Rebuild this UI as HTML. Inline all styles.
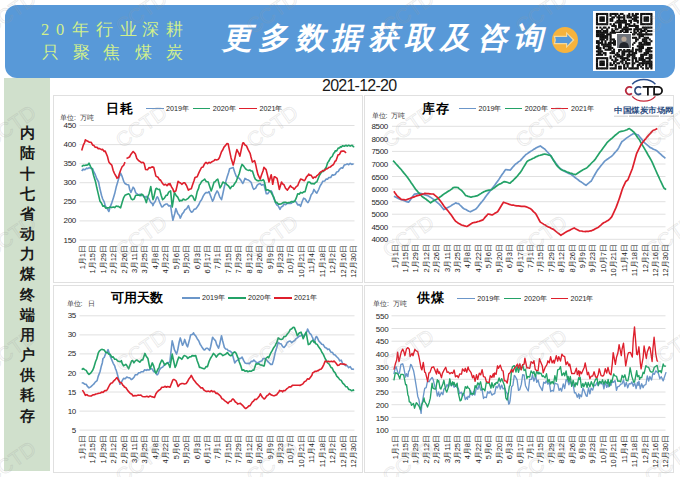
<!DOCTYPE html><html><head><meta charset="utf-8"><style>
html,body{margin:0;padding:0;}
body{width:680px;height:477px;position:relative;overflow:hidden;background:#fff;font-family:"Liberation Sans", sans-serif;}
.a{position:absolute;white-space:nowrap;line-height:1;}
.panel{position:absolute;border:1px solid #e0e0e0;box-sizing:border-box;background:#fff;}
.yl{position:absolute;white-space:nowrap;font-size:8px;color:#262626;text-align:right;width:24px;line-height:8px;letter-spacing:-0.3px;}
.xl{position:absolute;white-space:nowrap;font-size:7.5px;color:#222;line-height:8px;transform-origin:0 0;transform:rotate(-90deg);text-align:right;width:40px;}
.ttl{position:absolute;white-space:nowrap;letter-spacing:1px;font-size:12.5px;font-weight:bold;color:#000;line-height:1;}
.leg{position:absolute;white-space:nowrap;font-size:7.2px;color:#262626;line-height:8px;}
.unit{position:absolute;white-space:nowrap;font-size:7px;color:#404040;line-height:8px;}
</style></head><body>

<div class="a" style="left:5px;top:5px;width:670px;height:72.5px;border-radius:12px;background:#5899d8;"></div>
<div class="a" style="left:41px;top:22.3px;font-size:16.5px;font-weight:300;color:#d2f08c;font-family:'Liberation Serif',serif;">2</div>
<div class="a" style="left:56px;top:22.3px;font-size:16.5px;font-weight:300;color:#d2f08c;font-family:'Liberation Serif',serif;">0</div>
<div class="a" style="left:71.5px;top:22.3px;font-size:16.5px;font-weight:300;color:#d2f08c;font-family:'Liberation Serif',serif;">年</div>
<div class="a" style="left:95.5px;top:22.3px;font-size:16.5px;font-weight:300;color:#d2f08c;font-family:'Liberation Serif',serif;">行</div>
<div class="a" style="left:119.5px;top:22.3px;font-size:16.5px;font-weight:300;color:#d2f08c;font-family:'Liberation Serif',serif;">业</div>
<div class="a" style="left:142px;top:22.3px;font-size:16.5px;font-weight:300;color:#d2f08c;font-family:'Liberation Serif',serif;">深</div>
<div class="a" style="left:165.5px;top:22.3px;font-size:16.5px;font-weight:300;color:#d2f08c;font-family:'Liberation Serif',serif;">耕</div>
<div class="a" style="left:42px;top:45.2px;font-size:16.5px;font-weight:300;color:#d2f08c;font-family:'Liberation Serif',serif;">只</div>
<div class="a" style="left:72.5px;top:45.2px;font-size:16.5px;font-weight:300;color:#d2f08c;font-family:'Liberation Serif',serif;">聚</div>
<div class="a" style="left:103px;top:45.2px;font-size:16.5px;font-weight:300;color:#d2f08c;font-family:'Liberation Serif',serif;">焦</div>
<div class="a" style="left:134.5px;top:45.2px;font-size:16.5px;font-weight:300;color:#d2f08c;font-family:'Liberation Serif',serif;">煤</div>
<div class="a" style="left:165.5px;top:45.2px;font-size:16.5px;font-weight:300;color:#d2f08c;font-family:'Liberation Serif',serif;">炭</div>
<div class="a" style="left:222px;top:23px;font-size:30px;color:#fff;font-style:italic;font-weight:bold;letter-spacing:6.4px;">更多数据获取及咨询</div>
<svg class="a" style="left:551px;top:26px;" width="28" height="28" viewBox="0 0 28 28">
<circle cx="14" cy="14" r="13" fill="#f7b33d"/>
<path d="M2.5 9.8 H15 V5.8 L23.5 14 L15 22.2 V18.2 H2.5 Q4.5 14 2.5 9.8 Z" fill="#f3d9a0"/>
<path d="M4.2 11 H16.2 V8.3 L21.6 14 L16.2 19.7 V17 H4.2 Q5.6 14 4.2 11 Z" fill="#5899d8"/>
</svg>
<svg class="a" style="left:593px;top:11px;" width="62" height="60"><rect width="62" height="60" fill="#fff"/><g fill="#111"><rect x="2.95" y="1.95" width="2.10" height="2.10"/><rect x="4.65" y="1.95" width="2.10" height="2.10"/><rect x="6.35" y="1.95" width="2.10" height="2.10"/><rect x="8.05" y="1.95" width="2.10" height="2.10"/><rect x="9.75" y="1.95" width="2.10" height="2.10"/><rect x="11.45" y="1.95" width="2.10" height="2.10"/><rect x="13.15" y="1.95" width="2.10" height="2.10"/><rect x="16.55" y="1.95" width="2.10" height="2.10"/><rect x="18.25" y="1.95" width="2.10" height="2.10"/><rect x="19.95" y="1.95" width="2.10" height="2.10"/><rect x="21.65" y="1.95" width="2.10" height="2.10"/><rect x="23.35" y="1.95" width="2.10" height="2.10"/><rect x="26.75" y="1.95" width="2.10" height="2.10"/><rect x="28.45" y="1.95" width="2.10" height="2.10"/><rect x="35.25" y="1.95" width="2.10" height="2.10"/><rect x="38.65" y="1.95" width="2.10" height="2.10"/><rect x="42.05" y="1.95" width="2.10" height="2.10"/><rect x="43.75" y="1.95" width="2.10" height="2.10"/><rect x="47.15" y="1.95" width="2.10" height="2.10"/><rect x="48.85" y="1.95" width="2.10" height="2.10"/><rect x="50.55" y="1.95" width="2.10" height="2.10"/><rect x="52.25" y="1.95" width="2.10" height="2.10"/><rect x="53.95" y="1.95" width="2.10" height="2.10"/><rect x="55.65" y="1.95" width="2.10" height="2.10"/><rect x="57.35" y="1.95" width="2.10" height="2.10"/><rect x="2.95" y="3.65" width="2.10" height="2.10"/><rect x="13.15" y="3.65" width="2.10" height="2.10"/><rect x="16.55" y="3.65" width="2.10" height="2.10"/><rect x="21.65" y="3.65" width="2.10" height="2.10"/><rect x="25.05" y="3.65" width="2.10" height="2.10"/><rect x="30.15" y="3.65" width="2.10" height="2.10"/><rect x="33.55" y="3.65" width="2.10" height="2.10"/><rect x="35.25" y="3.65" width="2.10" height="2.10"/><rect x="38.65" y="3.65" width="2.10" height="2.10"/><rect x="40.35" y="3.65" width="2.10" height="2.10"/><rect x="42.05" y="3.65" width="2.10" height="2.10"/><rect x="47.15" y="3.65" width="2.10" height="2.10"/><rect x="57.35" y="3.65" width="2.10" height="2.10"/><rect x="2.95" y="5.35" width="2.10" height="2.10"/><rect x="6.35" y="5.35" width="2.10" height="2.10"/><rect x="8.05" y="5.35" width="2.10" height="2.10"/><rect x="9.75" y="5.35" width="2.10" height="2.10"/><rect x="13.15" y="5.35" width="2.10" height="2.10"/><rect x="18.25" y="5.35" width="2.10" height="2.10"/><rect x="19.95" y="5.35" width="2.10" height="2.10"/><rect x="23.35" y="5.35" width="2.10" height="2.10"/><rect x="25.05" y="5.35" width="2.10" height="2.10"/><rect x="26.75" y="5.35" width="2.10" height="2.10"/><rect x="28.45" y="5.35" width="2.10" height="2.10"/><rect x="30.15" y="5.35" width="2.10" height="2.10"/><rect x="33.55" y="5.35" width="2.10" height="2.10"/><rect x="35.25" y="5.35" width="2.10" height="2.10"/><rect x="36.95" y="5.35" width="2.10" height="2.10"/><rect x="40.35" y="5.35" width="2.10" height="2.10"/><rect x="42.05" y="5.35" width="2.10" height="2.10"/><rect x="43.75" y="5.35" width="2.10" height="2.10"/><rect x="47.15" y="5.35" width="2.10" height="2.10"/><rect x="50.55" y="5.35" width="2.10" height="2.10"/><rect x="52.25" y="5.35" width="2.10" height="2.10"/><rect x="53.95" y="5.35" width="2.10" height="2.10"/><rect x="57.35" y="5.35" width="2.10" height="2.10"/><rect x="2.95" y="7.05" width="2.10" height="2.10"/><rect x="6.35" y="7.05" width="2.10" height="2.10"/><rect x="8.05" y="7.05" width="2.10" height="2.10"/><rect x="9.75" y="7.05" width="2.10" height="2.10"/><rect x="13.15" y="7.05" width="2.10" height="2.10"/><rect x="16.55" y="7.05" width="2.10" height="2.10"/><rect x="18.25" y="7.05" width="2.10" height="2.10"/><rect x="25.05" y="7.05" width="2.10" height="2.10"/><rect x="30.15" y="7.05" width="2.10" height="2.10"/><rect x="38.65" y="7.05" width="2.10" height="2.10"/><rect x="40.35" y="7.05" width="2.10" height="2.10"/><rect x="42.05" y="7.05" width="2.10" height="2.10"/><rect x="47.15" y="7.05" width="2.10" height="2.10"/><rect x="50.55" y="7.05" width="2.10" height="2.10"/><rect x="52.25" y="7.05" width="2.10" height="2.10"/><rect x="53.95" y="7.05" width="2.10" height="2.10"/><rect x="57.35" y="7.05" width="2.10" height="2.10"/><rect x="2.95" y="8.75" width="2.10" height="2.10"/><rect x="6.35" y="8.75" width="2.10" height="2.10"/><rect x="8.05" y="8.75" width="2.10" height="2.10"/><rect x="9.75" y="8.75" width="2.10" height="2.10"/><rect x="13.15" y="8.75" width="2.10" height="2.10"/><rect x="16.55" y="8.75" width="2.10" height="2.10"/><rect x="18.25" y="8.75" width="2.10" height="2.10"/><rect x="23.35" y="8.75" width="2.10" height="2.10"/><rect x="25.05" y="8.75" width="2.10" height="2.10"/><rect x="26.75" y="8.75" width="2.10" height="2.10"/><rect x="28.45" y="8.75" width="2.10" height="2.10"/><rect x="30.15" y="8.75" width="2.10" height="2.10"/><rect x="31.85" y="8.75" width="2.10" height="2.10"/><rect x="35.25" y="8.75" width="2.10" height="2.10"/><rect x="36.95" y="8.75" width="2.10" height="2.10"/><rect x="40.35" y="8.75" width="2.10" height="2.10"/><rect x="42.05" y="8.75" width="2.10" height="2.10"/><rect x="43.75" y="8.75" width="2.10" height="2.10"/><rect x="47.15" y="8.75" width="2.10" height="2.10"/><rect x="50.55" y="8.75" width="2.10" height="2.10"/><rect x="52.25" y="8.75" width="2.10" height="2.10"/><rect x="53.95" y="8.75" width="2.10" height="2.10"/><rect x="57.35" y="8.75" width="2.10" height="2.10"/><rect x="2.95" y="10.45" width="2.10" height="2.10"/><rect x="13.15" y="10.45" width="2.10" height="2.10"/><rect x="21.65" y="10.45" width="2.10" height="2.10"/><rect x="23.35" y="10.45" width="2.10" height="2.10"/><rect x="25.05" y="10.45" width="2.10" height="2.10"/><rect x="26.75" y="10.45" width="2.10" height="2.10"/><rect x="28.45" y="10.45" width="2.10" height="2.10"/><rect x="30.15" y="10.45" width="2.10" height="2.10"/><rect x="31.85" y="10.45" width="2.10" height="2.10"/><rect x="36.95" y="10.45" width="2.10" height="2.10"/><rect x="43.75" y="10.45" width="2.10" height="2.10"/><rect x="47.15" y="10.45" width="2.10" height="2.10"/><rect x="57.35" y="10.45" width="2.10" height="2.10"/><rect x="2.95" y="12.15" width="2.10" height="2.10"/><rect x="4.65" y="12.15" width="2.10" height="2.10"/><rect x="6.35" y="12.15" width="2.10" height="2.10"/><rect x="8.05" y="12.15" width="2.10" height="2.10"/><rect x="9.75" y="12.15" width="2.10" height="2.10"/><rect x="11.45" y="12.15" width="2.10" height="2.10"/><rect x="13.15" y="12.15" width="2.10" height="2.10"/><rect x="16.55" y="12.15" width="2.10" height="2.10"/><rect x="19.95" y="12.15" width="2.10" height="2.10"/><rect x="25.05" y="12.15" width="2.10" height="2.10"/><rect x="26.75" y="12.15" width="2.10" height="2.10"/><rect x="31.85" y="12.15" width="2.10" height="2.10"/><rect x="33.55" y="12.15" width="2.10" height="2.10"/><rect x="35.25" y="12.15" width="2.10" height="2.10"/><rect x="40.35" y="12.15" width="2.10" height="2.10"/><rect x="47.15" y="12.15" width="2.10" height="2.10"/><rect x="48.85" y="12.15" width="2.10" height="2.10"/><rect x="50.55" y="12.15" width="2.10" height="2.10"/><rect x="52.25" y="12.15" width="2.10" height="2.10"/><rect x="53.95" y="12.15" width="2.10" height="2.10"/><rect x="55.65" y="12.15" width="2.10" height="2.10"/><rect x="57.35" y="12.15" width="2.10" height="2.10"/><rect x="18.25" y="13.85" width="2.10" height="2.10"/><rect x="19.95" y="13.85" width="2.10" height="2.10"/><rect x="21.65" y="13.85" width="2.10" height="2.10"/><rect x="25.05" y="13.85" width="2.10" height="2.10"/><rect x="26.75" y="13.85" width="2.10" height="2.10"/><rect x="31.85" y="13.85" width="2.10" height="2.10"/><rect x="35.25" y="13.85" width="2.10" height="2.10"/><rect x="36.95" y="13.85" width="2.10" height="2.10"/><rect x="38.65" y="13.85" width="2.10" height="2.10"/><rect x="40.35" y="13.85" width="2.10" height="2.10"/><rect x="42.05" y="13.85" width="2.10" height="2.10"/><rect x="43.75" y="13.85" width="2.10" height="2.10"/><rect x="2.95" y="15.55" width="2.10" height="2.10"/><rect x="6.35" y="15.55" width="2.10" height="2.10"/><rect x="9.75" y="15.55" width="2.10" height="2.10"/><rect x="11.45" y="15.55" width="2.10" height="2.10"/><rect x="14.85" y="15.55" width="2.10" height="2.10"/><rect x="21.65" y="15.55" width="2.10" height="2.10"/><rect x="25.05" y="15.55" width="2.10" height="2.10"/><rect x="26.75" y="15.55" width="2.10" height="2.10"/><rect x="30.15" y="15.55" width="2.10" height="2.10"/><rect x="31.85" y="15.55" width="2.10" height="2.10"/><rect x="33.55" y="15.55" width="2.10" height="2.10"/><rect x="42.05" y="15.55" width="2.10" height="2.10"/><rect x="43.75" y="15.55" width="2.10" height="2.10"/><rect x="48.85" y="15.55" width="2.10" height="2.10"/><rect x="50.55" y="15.55" width="2.10" height="2.10"/><rect x="52.25" y="15.55" width="2.10" height="2.10"/><rect x="53.95" y="15.55" width="2.10" height="2.10"/><rect x="55.65" y="15.55" width="2.10" height="2.10"/><rect x="57.35" y="15.55" width="2.10" height="2.10"/><rect x="8.05" y="17.25" width="2.10" height="2.10"/><rect x="13.15" y="17.25" width="2.10" height="2.10"/><rect x="18.25" y="17.25" width="2.10" height="2.10"/><rect x="21.65" y="17.25" width="2.10" height="2.10"/><rect x="23.35" y="17.25" width="2.10" height="2.10"/><rect x="28.45" y="17.25" width="2.10" height="2.10"/><rect x="30.15" y="17.25" width="2.10" height="2.10"/><rect x="31.85" y="17.25" width="2.10" height="2.10"/><rect x="33.55" y="17.25" width="2.10" height="2.10"/><rect x="35.25" y="17.25" width="2.10" height="2.10"/><rect x="36.95" y="17.25" width="2.10" height="2.10"/><rect x="40.35" y="17.25" width="2.10" height="2.10"/><rect x="42.05" y="17.25" width="2.10" height="2.10"/><rect x="43.75" y="17.25" width="2.10" height="2.10"/><rect x="45.45" y="17.25" width="2.10" height="2.10"/><rect x="47.15" y="17.25" width="2.10" height="2.10"/><rect x="50.55" y="17.25" width="2.10" height="2.10"/><rect x="52.25" y="17.25" width="2.10" height="2.10"/><rect x="2.95" y="18.95" width="2.10" height="2.10"/><rect x="4.65" y="18.95" width="2.10" height="2.10"/><rect x="6.35" y="18.95" width="2.10" height="2.10"/><rect x="9.75" y="18.95" width="2.10" height="2.10"/><rect x="11.45" y="18.95" width="2.10" height="2.10"/><rect x="13.15" y="18.95" width="2.10" height="2.10"/><rect x="18.25" y="18.95" width="2.10" height="2.10"/><rect x="19.95" y="18.95" width="2.10" height="2.10"/><rect x="26.75" y="18.95" width="2.10" height="2.10"/><rect x="28.45" y="18.95" width="2.10" height="2.10"/><rect x="31.85" y="18.95" width="2.10" height="2.10"/><rect x="33.55" y="18.95" width="2.10" height="2.10"/><rect x="40.35" y="18.95" width="2.10" height="2.10"/><rect x="43.75" y="18.95" width="2.10" height="2.10"/><rect x="47.15" y="18.95" width="2.10" height="2.10"/><rect x="48.85" y="18.95" width="2.10" height="2.10"/><rect x="50.55" y="18.95" width="2.10" height="2.10"/><rect x="53.95" y="18.95" width="2.10" height="2.10"/><rect x="55.65" y="18.95" width="2.10" height="2.10"/><rect x="57.35" y="18.95" width="2.10" height="2.10"/><rect x="2.95" y="20.65" width="2.10" height="2.10"/><rect x="4.65" y="20.65" width="2.10" height="2.10"/><rect x="6.35" y="20.65" width="2.10" height="2.10"/><rect x="8.05" y="20.65" width="2.10" height="2.10"/><rect x="9.75" y="20.65" width="2.10" height="2.10"/><rect x="11.45" y="20.65" width="2.10" height="2.10"/><rect x="13.15" y="20.65" width="2.10" height="2.10"/><rect x="16.55" y="20.65" width="2.10" height="2.10"/><rect x="18.25" y="20.65" width="2.10" height="2.10"/><rect x="19.95" y="20.65" width="2.10" height="2.10"/><rect x="21.65" y="20.65" width="2.10" height="2.10"/><rect x="23.35" y="20.65" width="2.10" height="2.10"/><rect x="25.05" y="20.65" width="2.10" height="2.10"/><rect x="26.75" y="20.65" width="2.10" height="2.10"/><rect x="30.15" y="20.65" width="2.10" height="2.10"/><rect x="31.85" y="20.65" width="2.10" height="2.10"/><rect x="33.55" y="20.65" width="2.10" height="2.10"/><rect x="36.95" y="20.65" width="2.10" height="2.10"/><rect x="40.35" y="20.65" width="2.10" height="2.10"/><rect x="42.05" y="20.65" width="2.10" height="2.10"/><rect x="45.45" y="20.65" width="2.10" height="2.10"/><rect x="47.15" y="20.65" width="2.10" height="2.10"/><rect x="52.25" y="20.65" width="2.10" height="2.10"/><rect x="2.95" y="22.35" width="2.10" height="2.10"/><rect x="4.65" y="22.35" width="2.10" height="2.10"/><rect x="6.35" y="22.35" width="2.10" height="2.10"/><rect x="8.05" y="22.35" width="2.10" height="2.10"/><rect x="9.75" y="22.35" width="2.10" height="2.10"/><rect x="13.15" y="22.35" width="2.10" height="2.10"/><rect x="14.85" y="22.35" width="2.10" height="2.10"/><rect x="16.55" y="22.35" width="2.10" height="2.10"/><rect x="23.35" y="22.35" width="2.10" height="2.10"/><rect x="25.05" y="22.35" width="2.10" height="2.10"/><rect x="26.75" y="22.35" width="2.10" height="2.10"/><rect x="28.45" y="22.35" width="2.10" height="2.10"/><rect x="30.15" y="22.35" width="2.10" height="2.10"/><rect x="31.85" y="22.35" width="2.10" height="2.10"/><rect x="33.55" y="22.35" width="2.10" height="2.10"/><rect x="38.65" y="22.35" width="2.10" height="2.10"/><rect x="40.35" y="22.35" width="2.10" height="2.10"/><rect x="43.75" y="22.35" width="2.10" height="2.10"/><rect x="45.45" y="22.35" width="2.10" height="2.10"/><rect x="47.15" y="22.35" width="2.10" height="2.10"/><rect x="48.85" y="22.35" width="2.10" height="2.10"/><rect x="50.55" y="22.35" width="2.10" height="2.10"/><rect x="52.25" y="22.35" width="2.10" height="2.10"/><rect x="53.95" y="22.35" width="2.10" height="2.10"/><rect x="55.65" y="22.35" width="2.10" height="2.10"/><rect x="57.35" y="22.35" width="2.10" height="2.10"/><rect x="2.95" y="24.05" width="2.10" height="2.10"/><rect x="4.65" y="24.05" width="2.10" height="2.10"/><rect x="6.35" y="24.05" width="2.10" height="2.10"/><rect x="8.05" y="24.05" width="2.10" height="2.10"/><rect x="9.75" y="24.05" width="2.10" height="2.10"/><rect x="11.45" y="24.05" width="2.10" height="2.10"/><rect x="13.15" y="24.05" width="2.10" height="2.10"/><rect x="16.55" y="24.05" width="2.10" height="2.10"/><rect x="25.05" y="24.05" width="2.10" height="2.10"/><rect x="26.75" y="24.05" width="2.10" height="2.10"/><rect x="30.15" y="24.05" width="2.10" height="2.10"/><rect x="35.25" y="24.05" width="2.10" height="2.10"/><rect x="45.45" y="24.05" width="2.10" height="2.10"/><rect x="47.15" y="24.05" width="2.10" height="2.10"/><rect x="48.85" y="24.05" width="2.10" height="2.10"/><rect x="6.35" y="25.75" width="2.10" height="2.10"/><rect x="8.05" y="25.75" width="2.10" height="2.10"/><rect x="9.75" y="25.75" width="2.10" height="2.10"/><rect x="11.45" y="25.75" width="2.10" height="2.10"/><rect x="13.15" y="25.75" width="2.10" height="2.10"/><rect x="16.55" y="25.75" width="2.10" height="2.10"/><rect x="23.35" y="25.75" width="2.10" height="2.10"/><rect x="25.05" y="25.75" width="2.10" height="2.10"/><rect x="30.15" y="25.75" width="2.10" height="2.10"/><rect x="31.85" y="25.75" width="2.10" height="2.10"/><rect x="35.25" y="25.75" width="2.10" height="2.10"/><rect x="38.65" y="25.75" width="2.10" height="2.10"/><rect x="40.35" y="25.75" width="2.10" height="2.10"/><rect x="42.05" y="25.75" width="2.10" height="2.10"/><rect x="45.45" y="25.75" width="2.10" height="2.10"/><rect x="50.55" y="25.75" width="2.10" height="2.10"/><rect x="52.25" y="25.75" width="2.10" height="2.10"/><rect x="53.95" y="25.75" width="2.10" height="2.10"/><rect x="6.35" y="27.45" width="2.10" height="2.10"/><rect x="8.05" y="27.45" width="2.10" height="2.10"/><rect x="9.75" y="27.45" width="2.10" height="2.10"/><rect x="13.15" y="27.45" width="2.10" height="2.10"/><rect x="16.55" y="27.45" width="2.10" height="2.10"/><rect x="18.25" y="27.45" width="2.10" height="2.10"/><rect x="19.95" y="27.45" width="2.10" height="2.10"/><rect x="26.75" y="27.45" width="2.10" height="2.10"/><rect x="28.45" y="27.45" width="2.10" height="2.10"/><rect x="30.15" y="27.45" width="2.10" height="2.10"/><rect x="31.85" y="27.45" width="2.10" height="2.10"/><rect x="33.55" y="27.45" width="2.10" height="2.10"/><rect x="36.95" y="27.45" width="2.10" height="2.10"/><rect x="42.05" y="27.45" width="2.10" height="2.10"/><rect x="43.75" y="27.45" width="2.10" height="2.10"/><rect x="48.85" y="27.45" width="2.10" height="2.10"/><rect x="50.55" y="27.45" width="2.10" height="2.10"/><rect x="52.25" y="27.45" width="2.10" height="2.10"/><rect x="55.65" y="27.45" width="2.10" height="2.10"/><rect x="2.95" y="29.15" width="2.10" height="2.10"/><rect x="4.65" y="29.15" width="2.10" height="2.10"/><rect x="8.05" y="29.15" width="2.10" height="2.10"/><rect x="11.45" y="29.15" width="2.10" height="2.10"/><rect x="16.55" y="29.15" width="2.10" height="2.10"/><rect x="19.95" y="29.15" width="2.10" height="2.10"/><rect x="21.65" y="29.15" width="2.10" height="2.10"/><rect x="23.35" y="29.15" width="2.10" height="2.10"/><rect x="25.05" y="29.15" width="2.10" height="2.10"/><rect x="26.75" y="29.15" width="2.10" height="2.10"/><rect x="28.45" y="29.15" width="2.10" height="2.10"/><rect x="30.15" y="29.15" width="2.10" height="2.10"/><rect x="31.85" y="29.15" width="2.10" height="2.10"/><rect x="33.55" y="29.15" width="2.10" height="2.10"/><rect x="36.95" y="29.15" width="2.10" height="2.10"/><rect x="42.05" y="29.15" width="2.10" height="2.10"/><rect x="48.85" y="29.15" width="2.10" height="2.10"/><rect x="50.55" y="29.15" width="2.10" height="2.10"/><rect x="52.25" y="29.15" width="2.10" height="2.10"/><rect x="57.35" y="29.15" width="2.10" height="2.10"/><rect x="2.95" y="30.85" width="2.10" height="2.10"/><rect x="4.65" y="30.85" width="2.10" height="2.10"/><rect x="6.35" y="30.85" width="2.10" height="2.10"/><rect x="8.05" y="30.85" width="2.10" height="2.10"/><rect x="11.45" y="30.85" width="2.10" height="2.10"/><rect x="14.85" y="30.85" width="2.10" height="2.10"/><rect x="16.55" y="30.85" width="2.10" height="2.10"/><rect x="18.25" y="30.85" width="2.10" height="2.10"/><rect x="19.95" y="30.85" width="2.10" height="2.10"/><rect x="21.65" y="30.85" width="2.10" height="2.10"/><rect x="33.55" y="30.85" width="2.10" height="2.10"/><rect x="36.95" y="30.85" width="2.10" height="2.10"/><rect x="40.35" y="30.85" width="2.10" height="2.10"/><rect x="45.45" y="30.85" width="2.10" height="2.10"/><rect x="47.15" y="30.85" width="2.10" height="2.10"/><rect x="50.55" y="30.85" width="2.10" height="2.10"/><rect x="52.25" y="30.85" width="2.10" height="2.10"/><rect x="53.95" y="30.85" width="2.10" height="2.10"/><rect x="55.65" y="30.85" width="2.10" height="2.10"/><rect x="4.65" y="32.55" width="2.10" height="2.10"/><rect x="8.05" y="32.55" width="2.10" height="2.10"/><rect x="9.75" y="32.55" width="2.10" height="2.10"/><rect x="11.45" y="32.55" width="2.10" height="2.10"/><rect x="13.15" y="32.55" width="2.10" height="2.10"/><rect x="14.85" y="32.55" width="2.10" height="2.10"/><rect x="16.55" y="32.55" width="2.10" height="2.10"/><rect x="19.95" y="32.55" width="2.10" height="2.10"/><rect x="21.65" y="32.55" width="2.10" height="2.10"/><rect x="26.75" y="32.55" width="2.10" height="2.10"/><rect x="28.45" y="32.55" width="2.10" height="2.10"/><rect x="30.15" y="32.55" width="2.10" height="2.10"/><rect x="31.85" y="32.55" width="2.10" height="2.10"/><rect x="33.55" y="32.55" width="2.10" height="2.10"/><rect x="35.25" y="32.55" width="2.10" height="2.10"/><rect x="36.95" y="32.55" width="2.10" height="2.10"/><rect x="38.65" y="32.55" width="2.10" height="2.10"/><rect x="45.45" y="32.55" width="2.10" height="2.10"/><rect x="47.15" y="32.55" width="2.10" height="2.10"/><rect x="48.85" y="32.55" width="2.10" height="2.10"/><rect x="50.55" y="32.55" width="2.10" height="2.10"/><rect x="52.25" y="32.55" width="2.10" height="2.10"/><rect x="53.95" y="32.55" width="2.10" height="2.10"/><rect x="55.65" y="32.55" width="2.10" height="2.10"/><rect x="2.95" y="34.25" width="2.10" height="2.10"/><rect x="4.65" y="34.25" width="2.10" height="2.10"/><rect x="9.75" y="34.25" width="2.10" height="2.10"/><rect x="11.45" y="34.25" width="2.10" height="2.10"/><rect x="13.15" y="34.25" width="2.10" height="2.10"/><rect x="14.85" y="34.25" width="2.10" height="2.10"/><rect x="16.55" y="34.25" width="2.10" height="2.10"/><rect x="23.35" y="34.25" width="2.10" height="2.10"/><rect x="25.05" y="34.25" width="2.10" height="2.10"/><rect x="30.15" y="34.25" width="2.10" height="2.10"/><rect x="33.55" y="34.25" width="2.10" height="2.10"/><rect x="35.25" y="34.25" width="2.10" height="2.10"/><rect x="43.75" y="34.25" width="2.10" height="2.10"/><rect x="45.45" y="34.25" width="2.10" height="2.10"/><rect x="47.15" y="34.25" width="2.10" height="2.10"/><rect x="48.85" y="34.25" width="2.10" height="2.10"/><rect x="2.95" y="35.95" width="2.10" height="2.10"/><rect x="4.65" y="35.95" width="2.10" height="2.10"/><rect x="6.35" y="35.95" width="2.10" height="2.10"/><rect x="9.75" y="35.95" width="2.10" height="2.10"/><rect x="14.85" y="35.95" width="2.10" height="2.10"/><rect x="16.55" y="35.95" width="2.10" height="2.10"/><rect x="18.25" y="35.95" width="2.10" height="2.10"/><rect x="23.35" y="35.95" width="2.10" height="2.10"/><rect x="25.05" y="35.95" width="2.10" height="2.10"/><rect x="26.75" y="35.95" width="2.10" height="2.10"/><rect x="30.15" y="35.95" width="2.10" height="2.10"/><rect x="31.85" y="35.95" width="2.10" height="2.10"/><rect x="35.25" y="35.95" width="2.10" height="2.10"/><rect x="36.95" y="35.95" width="2.10" height="2.10"/><rect x="38.65" y="35.95" width="2.10" height="2.10"/><rect x="45.45" y="35.95" width="2.10" height="2.10"/><rect x="47.15" y="35.95" width="2.10" height="2.10"/><rect x="48.85" y="35.95" width="2.10" height="2.10"/><rect x="53.95" y="35.95" width="2.10" height="2.10"/><rect x="55.65" y="35.95" width="2.10" height="2.10"/><rect x="57.35" y="35.95" width="2.10" height="2.10"/><rect x="4.65" y="37.65" width="2.10" height="2.10"/><rect x="6.35" y="37.65" width="2.10" height="2.10"/><rect x="11.45" y="37.65" width="2.10" height="2.10"/><rect x="13.15" y="37.65" width="2.10" height="2.10"/><rect x="14.85" y="37.65" width="2.10" height="2.10"/><rect x="16.55" y="37.65" width="2.10" height="2.10"/><rect x="19.95" y="37.65" width="2.10" height="2.10"/><rect x="25.05" y="37.65" width="2.10" height="2.10"/><rect x="26.75" y="37.65" width="2.10" height="2.10"/><rect x="30.15" y="37.65" width="2.10" height="2.10"/><rect x="33.55" y="37.65" width="2.10" height="2.10"/><rect x="35.25" y="37.65" width="2.10" height="2.10"/><rect x="38.65" y="37.65" width="2.10" height="2.10"/><rect x="42.05" y="37.65" width="2.10" height="2.10"/><rect x="43.75" y="37.65" width="2.10" height="2.10"/><rect x="45.45" y="37.65" width="2.10" height="2.10"/><rect x="47.15" y="37.65" width="2.10" height="2.10"/><rect x="52.25" y="37.65" width="2.10" height="2.10"/><rect x="53.95" y="37.65" width="2.10" height="2.10"/><rect x="55.65" y="37.65" width="2.10" height="2.10"/><rect x="2.95" y="39.35" width="2.10" height="2.10"/><rect x="4.65" y="39.35" width="2.10" height="2.10"/><rect x="6.35" y="39.35" width="2.10" height="2.10"/><rect x="8.05" y="39.35" width="2.10" height="2.10"/><rect x="18.25" y="39.35" width="2.10" height="2.10"/><rect x="19.95" y="39.35" width="2.10" height="2.10"/><rect x="25.05" y="39.35" width="2.10" height="2.10"/><rect x="28.45" y="39.35" width="2.10" height="2.10"/><rect x="30.15" y="39.35" width="2.10" height="2.10"/><rect x="31.85" y="39.35" width="2.10" height="2.10"/><rect x="33.55" y="39.35" width="2.10" height="2.10"/><rect x="35.25" y="39.35" width="2.10" height="2.10"/><rect x="36.95" y="39.35" width="2.10" height="2.10"/><rect x="38.65" y="39.35" width="2.10" height="2.10"/><rect x="42.05" y="39.35" width="2.10" height="2.10"/><rect x="45.45" y="39.35" width="2.10" height="2.10"/><rect x="47.15" y="39.35" width="2.10" height="2.10"/><rect x="52.25" y="39.35" width="2.10" height="2.10"/><rect x="53.95" y="39.35" width="2.10" height="2.10"/><rect x="55.65" y="39.35" width="2.10" height="2.10"/><rect x="57.35" y="39.35" width="2.10" height="2.10"/><rect x="4.65" y="41.05" width="2.10" height="2.10"/><rect x="6.35" y="41.05" width="2.10" height="2.10"/><rect x="9.75" y="41.05" width="2.10" height="2.10"/><rect x="11.45" y="41.05" width="2.10" height="2.10"/><rect x="16.55" y="41.05" width="2.10" height="2.10"/><rect x="18.25" y="41.05" width="2.10" height="2.10"/><rect x="19.95" y="41.05" width="2.10" height="2.10"/><rect x="23.35" y="41.05" width="2.10" height="2.10"/><rect x="28.45" y="41.05" width="2.10" height="2.10"/><rect x="30.15" y="41.05" width="2.10" height="2.10"/><rect x="35.25" y="41.05" width="2.10" height="2.10"/><rect x="38.65" y="41.05" width="2.10" height="2.10"/><rect x="40.35" y="41.05" width="2.10" height="2.10"/><rect x="42.05" y="41.05" width="2.10" height="2.10"/><rect x="50.55" y="41.05" width="2.10" height="2.10"/><rect x="52.25" y="41.05" width="2.10" height="2.10"/><rect x="53.95" y="41.05" width="2.10" height="2.10"/><rect x="2.95" y="42.75" width="2.10" height="2.10"/><rect x="4.65" y="42.75" width="2.10" height="2.10"/><rect x="6.35" y="42.75" width="2.10" height="2.10"/><rect x="8.05" y="42.75" width="2.10" height="2.10"/><rect x="11.45" y="42.75" width="2.10" height="2.10"/><rect x="21.65" y="42.75" width="2.10" height="2.10"/><rect x="23.35" y="42.75" width="2.10" height="2.10"/><rect x="25.05" y="42.75" width="2.10" height="2.10"/><rect x="28.45" y="42.75" width="2.10" height="2.10"/><rect x="30.15" y="42.75" width="2.10" height="2.10"/><rect x="33.55" y="42.75" width="2.10" height="2.10"/><rect x="35.25" y="42.75" width="2.10" height="2.10"/><rect x="36.95" y="42.75" width="2.10" height="2.10"/><rect x="38.65" y="42.75" width="2.10" height="2.10"/><rect x="40.35" y="42.75" width="2.10" height="2.10"/><rect x="47.15" y="42.75" width="2.10" height="2.10"/><rect x="48.85" y="42.75" width="2.10" height="2.10"/><rect x="50.55" y="42.75" width="2.10" height="2.10"/><rect x="52.25" y="42.75" width="2.10" height="2.10"/><rect x="55.65" y="42.75" width="2.10" height="2.10"/><rect x="57.35" y="42.75" width="2.10" height="2.10"/><rect x="16.55" y="44.45" width="2.10" height="2.10"/><rect x="19.95" y="44.45" width="2.10" height="2.10"/><rect x="23.35" y="44.45" width="2.10" height="2.10"/><rect x="25.05" y="44.45" width="2.10" height="2.10"/><rect x="26.75" y="44.45" width="2.10" height="2.10"/><rect x="28.45" y="44.45" width="2.10" height="2.10"/><rect x="33.55" y="44.45" width="2.10" height="2.10"/><rect x="35.25" y="44.45" width="2.10" height="2.10"/><rect x="38.65" y="44.45" width="2.10" height="2.10"/><rect x="40.35" y="44.45" width="2.10" height="2.10"/><rect x="47.15" y="44.45" width="2.10" height="2.10"/><rect x="48.85" y="44.45" width="2.10" height="2.10"/><rect x="55.65" y="44.45" width="2.10" height="2.10"/><rect x="57.35" y="44.45" width="2.10" height="2.10"/><rect x="2.95" y="46.15" width="2.10" height="2.10"/><rect x="4.65" y="46.15" width="2.10" height="2.10"/><rect x="6.35" y="46.15" width="2.10" height="2.10"/><rect x="8.05" y="46.15" width="2.10" height="2.10"/><rect x="9.75" y="46.15" width="2.10" height="2.10"/><rect x="11.45" y="46.15" width="2.10" height="2.10"/><rect x="13.15" y="46.15" width="2.10" height="2.10"/><rect x="16.55" y="46.15" width="2.10" height="2.10"/><rect x="21.65" y="46.15" width="2.10" height="2.10"/><rect x="26.75" y="46.15" width="2.10" height="2.10"/><rect x="28.45" y="46.15" width="2.10" height="2.10"/><rect x="30.15" y="46.15" width="2.10" height="2.10"/><rect x="31.85" y="46.15" width="2.10" height="2.10"/><rect x="33.55" y="46.15" width="2.10" height="2.10"/><rect x="38.65" y="46.15" width="2.10" height="2.10"/><rect x="40.35" y="46.15" width="2.10" height="2.10"/><rect x="42.05" y="46.15" width="2.10" height="2.10"/><rect x="45.45" y="46.15" width="2.10" height="2.10"/><rect x="47.15" y="46.15" width="2.10" height="2.10"/><rect x="48.85" y="46.15" width="2.10" height="2.10"/><rect x="52.25" y="46.15" width="2.10" height="2.10"/><rect x="53.95" y="46.15" width="2.10" height="2.10"/><rect x="55.65" y="46.15" width="2.10" height="2.10"/><rect x="57.35" y="46.15" width="2.10" height="2.10"/><rect x="2.95" y="47.85" width="2.10" height="2.10"/><rect x="13.15" y="47.85" width="2.10" height="2.10"/><rect x="18.25" y="47.85" width="2.10" height="2.10"/><rect x="21.65" y="47.85" width="2.10" height="2.10"/><rect x="23.35" y="47.85" width="2.10" height="2.10"/><rect x="28.45" y="47.85" width="2.10" height="2.10"/><rect x="30.15" y="47.85" width="2.10" height="2.10"/><rect x="33.55" y="47.85" width="2.10" height="2.10"/><rect x="35.25" y="47.85" width="2.10" height="2.10"/><rect x="38.65" y="47.85" width="2.10" height="2.10"/><rect x="42.05" y="47.85" width="2.10" height="2.10"/><rect x="45.45" y="47.85" width="2.10" height="2.10"/><rect x="47.15" y="47.85" width="2.10" height="2.10"/><rect x="48.85" y="47.85" width="2.10" height="2.10"/><rect x="50.55" y="47.85" width="2.10" height="2.10"/><rect x="55.65" y="47.85" width="2.10" height="2.10"/><rect x="2.95" y="49.55" width="2.10" height="2.10"/><rect x="6.35" y="49.55" width="2.10" height="2.10"/><rect x="8.05" y="49.55" width="2.10" height="2.10"/><rect x="9.75" y="49.55" width="2.10" height="2.10"/><rect x="13.15" y="49.55" width="2.10" height="2.10"/><rect x="19.95" y="49.55" width="2.10" height="2.10"/><rect x="21.65" y="49.55" width="2.10" height="2.10"/><rect x="26.75" y="49.55" width="2.10" height="2.10"/><rect x="28.45" y="49.55" width="2.10" height="2.10"/><rect x="31.85" y="49.55" width="2.10" height="2.10"/><rect x="38.65" y="49.55" width="2.10" height="2.10"/><rect x="42.05" y="49.55" width="2.10" height="2.10"/><rect x="43.75" y="49.55" width="2.10" height="2.10"/><rect x="48.85" y="49.55" width="2.10" height="2.10"/><rect x="50.55" y="49.55" width="2.10" height="2.10"/><rect x="52.25" y="49.55" width="2.10" height="2.10"/><rect x="53.95" y="49.55" width="2.10" height="2.10"/><rect x="55.65" y="49.55" width="2.10" height="2.10"/><rect x="57.35" y="49.55" width="2.10" height="2.10"/><rect x="2.95" y="51.25" width="2.10" height="2.10"/><rect x="6.35" y="51.25" width="2.10" height="2.10"/><rect x="8.05" y="51.25" width="2.10" height="2.10"/><rect x="9.75" y="51.25" width="2.10" height="2.10"/><rect x="13.15" y="51.25" width="2.10" height="2.10"/><rect x="16.55" y="51.25" width="2.10" height="2.10"/><rect x="19.95" y="51.25" width="2.10" height="2.10"/><rect x="23.35" y="51.25" width="2.10" height="2.10"/><rect x="25.05" y="51.25" width="2.10" height="2.10"/><rect x="28.45" y="51.25" width="2.10" height="2.10"/><rect x="31.85" y="51.25" width="2.10" height="2.10"/><rect x="33.55" y="51.25" width="2.10" height="2.10"/><rect x="35.25" y="51.25" width="2.10" height="2.10"/><rect x="38.65" y="51.25" width="2.10" height="2.10"/><rect x="40.35" y="51.25" width="2.10" height="2.10"/><rect x="45.45" y="51.25" width="2.10" height="2.10"/><rect x="47.15" y="51.25" width="2.10" height="2.10"/><rect x="48.85" y="51.25" width="2.10" height="2.10"/><rect x="50.55" y="51.25" width="2.10" height="2.10"/><rect x="52.25" y="51.25" width="2.10" height="2.10"/><rect x="53.95" y="51.25" width="2.10" height="2.10"/><rect x="55.65" y="51.25" width="2.10" height="2.10"/><rect x="57.35" y="51.25" width="2.10" height="2.10"/><rect x="2.95" y="52.95" width="2.10" height="2.10"/><rect x="6.35" y="52.95" width="2.10" height="2.10"/><rect x="8.05" y="52.95" width="2.10" height="2.10"/><rect x="9.75" y="52.95" width="2.10" height="2.10"/><rect x="13.15" y="52.95" width="2.10" height="2.10"/><rect x="16.55" y="52.95" width="2.10" height="2.10"/><rect x="18.25" y="52.95" width="2.10" height="2.10"/><rect x="21.65" y="52.95" width="2.10" height="2.10"/><rect x="30.15" y="52.95" width="2.10" height="2.10"/><rect x="33.55" y="52.95" width="2.10" height="2.10"/><rect x="38.65" y="52.95" width="2.10" height="2.10"/><rect x="43.75" y="52.95" width="2.10" height="2.10"/><rect x="45.45" y="52.95" width="2.10" height="2.10"/><rect x="48.85" y="52.95" width="2.10" height="2.10"/><rect x="52.25" y="52.95" width="2.10" height="2.10"/><rect x="55.65" y="52.95" width="2.10" height="2.10"/><rect x="57.35" y="52.95" width="2.10" height="2.10"/><rect x="2.95" y="54.65" width="2.10" height="2.10"/><rect x="13.15" y="54.65" width="2.10" height="2.10"/><rect x="21.65" y="54.65" width="2.10" height="2.10"/><rect x="25.05" y="54.65" width="2.10" height="2.10"/><rect x="26.75" y="54.65" width="2.10" height="2.10"/><rect x="30.15" y="54.65" width="2.10" height="2.10"/><rect x="33.55" y="54.65" width="2.10" height="2.10"/><rect x="38.65" y="54.65" width="2.10" height="2.10"/><rect x="43.75" y="54.65" width="2.10" height="2.10"/><rect x="47.15" y="54.65" width="2.10" height="2.10"/><rect x="52.25" y="54.65" width="2.10" height="2.10"/><rect x="55.65" y="54.65" width="2.10" height="2.10"/><rect x="57.35" y="54.65" width="2.10" height="2.10"/><rect x="2.95" y="56.35" width="2.10" height="2.10"/><rect x="4.65" y="56.35" width="2.10" height="2.10"/><rect x="6.35" y="56.35" width="2.10" height="2.10"/><rect x="8.05" y="56.35" width="2.10" height="2.10"/><rect x="9.75" y="56.35" width="2.10" height="2.10"/><rect x="11.45" y="56.35" width="2.10" height="2.10"/><rect x="13.15" y="56.35" width="2.10" height="2.10"/><rect x="16.55" y="56.35" width="2.10" height="2.10"/><rect x="18.25" y="56.35" width="2.10" height="2.10"/><rect x="19.95" y="56.35" width="2.10" height="2.10"/><rect x="21.65" y="56.35" width="2.10" height="2.10"/><rect x="25.05" y="56.35" width="2.10" height="2.10"/><rect x="26.75" y="56.35" width="2.10" height="2.10"/><rect x="30.15" y="56.35" width="2.10" height="2.10"/><rect x="31.85" y="56.35" width="2.10" height="2.10"/><rect x="35.25" y="56.35" width="2.10" height="2.10"/><rect x="36.95" y="56.35" width="2.10" height="2.10"/><rect x="38.65" y="56.35" width="2.10" height="2.10"/><rect x="40.35" y="56.35" width="2.10" height="2.10"/><rect x="42.05" y="56.35" width="2.10" height="2.10"/><rect x="43.75" y="56.35" width="2.10" height="2.10"/><rect x="48.85" y="56.35" width="2.10" height="2.10"/><rect x="52.25" y="56.35" width="2.10" height="2.10"/><rect x="53.95" y="56.35" width="2.10" height="2.10"/><rect x="57.35" y="56.35" width="2.10" height="2.10"/></g><rect x="23.0" y="22.0" width="16" height="16" fill="#fff"/><rect x="24.0" y="23.0" width="14" height="14" fill="#6f747c"/><path d="M26.0 37.0 Q26.0 31.0 31.0 31.0 Q36.0 31.0 36.0 37.0 Z" fill="#23262d"/><circle cx="31.0" cy="28.0" r="2.6" fill="#b9a898"/></svg>
<div class="a" style="left:322px;top:78.3px;font-size:16px;letter-spacing:-0.75px;color:#1a1a1a;">2021-12-20</div>
<div class="a" style="left:4px;top:78px;width:46px;height:393px;background:#d0e0cc;"></div>
<div class="a" style="left:19.5px;top:126.2px;font-size:15px;font-weight:bold;color:#1a1a1a;font-family:'Liberation Serif',serif;width:16px;text-align:center;">内</div>
<div class="a" style="left:19.5px;top:146.4px;font-size:15px;font-weight:bold;color:#1a1a1a;font-family:'Liberation Serif',serif;width:16px;text-align:center;">陆</div>
<div class="a" style="left:19.5px;top:166.5px;font-size:15px;font-weight:bold;color:#1a1a1a;font-family:'Liberation Serif',serif;width:16px;text-align:center;">十</div>
<div class="a" style="left:19.5px;top:186.7px;font-size:15px;font-weight:bold;color:#1a1a1a;font-family:'Liberation Serif',serif;width:16px;text-align:center;">七</div>
<div class="a" style="left:19.5px;top:206.9px;font-size:15px;font-weight:bold;color:#1a1a1a;font-family:'Liberation Serif',serif;width:16px;text-align:center;">省</div>
<div class="a" style="left:19.5px;top:227.1px;font-size:15px;font-weight:bold;color:#1a1a1a;font-family:'Liberation Serif',serif;width:16px;text-align:center;">动</div>
<div class="a" style="left:19.5px;top:247.2px;font-size:15px;font-weight:bold;color:#1a1a1a;font-family:'Liberation Serif',serif;width:16px;text-align:center;">力</div>
<div class="a" style="left:19.5px;top:267.4px;font-size:15px;font-weight:bold;color:#1a1a1a;font-family:'Liberation Serif',serif;width:16px;text-align:center;">煤</div>
<div class="a" style="left:19.5px;top:287.6px;font-size:15px;font-weight:bold;color:#1a1a1a;font-family:'Liberation Serif',serif;width:16px;text-align:center;">终</div>
<div class="a" style="left:19.5px;top:307.7px;font-size:15px;font-weight:bold;color:#1a1a1a;font-family:'Liberation Serif',serif;width:16px;text-align:center;">端</div>
<div class="a" style="left:19.5px;top:327.9px;font-size:15px;font-weight:bold;color:#1a1a1a;font-family:'Liberation Serif',serif;width:16px;text-align:center;">用</div>
<div class="a" style="left:19.5px;top:348.1px;font-size:15px;font-weight:bold;color:#1a1a1a;font-family:'Liberation Serif',serif;width:16px;text-align:center;">户</div>
<div class="a" style="left:19.5px;top:368.2px;font-size:15px;font-weight:bold;color:#1a1a1a;font-family:'Liberation Serif',serif;width:16px;text-align:center;">供</div>
<div class="a" style="left:19.5px;top:388.4px;font-size:15px;font-weight:bold;color:#1a1a1a;font-family:'Liberation Serif',serif;width:16px;text-align:center;">耗</div>
<div class="a" style="left:19.5px;top:408.6px;font-size:15px;font-weight:bold;color:#1a1a1a;font-family:'Liberation Serif',serif;width:16px;text-align:center;">存</div>
<div class="panel" style="left:53px;top:95px;width:310px;height:188px;"></div>
<div class="panel" style="left:364px;top:95px;width:310px;height:188px;"></div>
<div class="panel" style="left:53px;top:285px;width:310px;height:188px;"></div>
<div class="panel" style="left:364px;top:285px;width:310px;height:188px;"></div>
<svg class="a" style="left:608px;top:76px;" width="70" height="44" viewBox="608 76 70 44">
<path d="M 632.2 84.2 A 14 10.8 0 0 1 655.4 84.2" stroke="#2c4f8c" stroke-width="1.4" fill="none"/>
<path d="M 655.4 96.4 A 14 10.8 0 0 1 632.2 96.4" stroke="#c8283a" stroke-width="1.4" fill="none"/>
<path d="M 631.9 87.9 A 3.5 3.85 0 1 0 631.9 93.4" stroke="#b82a3e" stroke-width="1.8" fill="none"/>
<path d="M 641.1 87.9 A 3.6 3.85 0 1 0 641.1 93.4" stroke="#2f4a7c" stroke-width="1.8" fill="none"/>
<path d="M 642.6 86.8 H 653 M 647.9 86.8 V 95.4" stroke="#151515" stroke-width="1.8" fill="none"/>
<path d="M 654.1 86.8 V 94.5 H 657.8 A 4.3 3.85 0 0 0 657.8 86.8 Z" stroke="#151515" stroke-width="1.8" fill="none"/>
<text x="614.2" y="113.3" font-family="Liberation Sans" font-size="7.8" font-weight="bold" fill="#2b4c80" textLength="59.7" lengthAdjust="spacingAndGlyphs">中国煤炭市场网</text>
<line x1="614" y1="116.2" x2="628" y2="116.2" stroke="#999" stroke-width="0.5"/>
<line x1="660" y1="116.2" x2="674" y2="116.2" stroke="#999" stroke-width="0.5"/>
<rect x="629" y="115.5" width="30" height="1.3" fill="#bdbdbd"/>
</svg>
<div class="ttl" style="letter-spacing:1px;left:105.5px;top:102.5px;">日耗</div>
<div class="a" style="left:146.0px;top:107.7px;width:17.5px;height:1.4px;background:#6b96c9;"></div>
<div class="leg" style="left:166.0px;top:104.5px;">2019年</div>
<div class="a" style="left:192.7px;top:107.7px;width:17.5px;height:1.4px;background:#23a267;"></div>
<div class="leg" style="left:212.7px;top:104.5px;">2020年</div>
<div class="a" style="left:239.4px;top:107.7px;width:17.5px;height:1.4px;background:#de1f2c;"></div>
<div class="leg" style="left:259.4px;top:104.5px;">2021年</div>
<div class="unit" style="left:60px;top:113.8px;">单位:&nbsp;&nbsp;万吨</div>
<div class="yl" style="left:52px;top:122.0px;">450</div>
<div class="yl" style="left:52px;top:141.1px;">400</div>
<div class="yl" style="left:52px;top:160.2px;">350</div>
<div class="yl" style="left:52px;top:179.2px;">300</div>
<div class="yl" style="left:52px;top:198.3px;">250</div>
<div class="yl" style="left:52px;top:217.4px;">200</div>
<div class="yl" style="left:52px;top:236.5px;">150</div>
<div class="xl" style="left:78.8px;top:284.5px;">1月1日</div>
<div class="xl" style="left:89.2px;top:284.5px;">1月15日</div>
<div class="xl" style="left:99.7px;top:284.5px;">1月29日</div>
<div class="xl" style="left:110.1px;top:284.5px;">2月12日</div>
<div class="xl" style="left:120.5px;top:284.5px;">2月26日</div>
<div class="xl" style="left:130.9px;top:284.5px;">3月11日</div>
<div class="xl" style="left:141.4px;top:284.5px;">3月25日</div>
<div class="xl" style="left:151.8px;top:284.5px;">4月8日</div>
<div class="xl" style="left:162.2px;top:284.5px;">4月22日</div>
<div class="xl" style="left:172.6px;top:284.5px;">5月6日</div>
<div class="xl" style="left:183.1px;top:284.5px;">5月20日</div>
<div class="xl" style="left:193.5px;top:284.5px;">6月3日</div>
<div class="xl" style="left:203.9px;top:284.5px;">6月17日</div>
<div class="xl" style="left:214.3px;top:284.5px;">7月1日</div>
<div class="xl" style="left:224.8px;top:284.5px;">7月15日</div>
<div class="xl" style="left:235.2px;top:284.5px;">7月29日</div>
<div class="xl" style="left:245.6px;top:284.5px;">8月12日</div>
<div class="xl" style="left:256.1px;top:284.5px;">8月26日</div>
<div class="xl" style="left:266.5px;top:284.5px;">9月9日</div>
<div class="xl" style="left:276.9px;top:284.5px;">9月23日</div>
<div class="xl" style="left:287.3px;top:284.5px;">10月7日</div>
<div class="xl" style="left:297.8px;top:284.5px;">10月21日</div>
<div class="xl" style="left:308.2px;top:284.5px;">11月4日</div>
<div class="xl" style="left:318.6px;top:284.5px;">11月18日</div>
<div class="xl" style="left:329.0px;top:284.5px;">12月2日</div>
<div class="xl" style="left:339.5px;top:284.5px;">12月16日</div>
<div class="xl" style="left:349.9px;top:284.5px;">12月30日</div>
<div class="ttl" style="letter-spacing:1px;left:421.5px;top:102.5px;">库存</div>
<div class="a" style="left:458.5px;top:107.7px;width:17.5px;height:1.4px;background:#6b96c9;"></div>
<div class="leg" style="left:478.5px;top:104.5px;">2019年</div>
<div class="a" style="left:504.7px;top:107.7px;width:17.5px;height:1.4px;background:#23a267;"></div>
<div class="leg" style="left:524.7px;top:104.5px;">2020年</div>
<div class="a" style="left:550.9px;top:107.7px;width:17.5px;height:1.4px;background:#de1f2c;"></div>
<div class="leg" style="left:570.9px;top:104.5px;">2021年</div>
<div class="unit" style="left:371.5px;top:112.1px;">单位:&nbsp;&nbsp;万吨</div>
<div class="yl" style="left:364px;top:123.3px;">8500</div>
<div class="yl" style="left:364px;top:135.9px;">8000</div>
<div class="yl" style="left:364px;top:148.4px;">7500</div>
<div class="yl" style="left:364px;top:161.0px;">7000</div>
<div class="yl" style="left:364px;top:173.5px;">6500</div>
<div class="yl" style="left:364px;top:186.1px;">6000</div>
<div class="yl" style="left:364px;top:198.7px;">5500</div>
<div class="yl" style="left:364px;top:211.2px;">5000</div>
<div class="yl" style="left:364px;top:223.8px;">4500</div>
<div class="yl" style="left:364px;top:236.3px;">4000</div>
<div class="xl" style="left:391.5px;top:283.8px;">1月1日</div>
<div class="xl" style="left:401.9px;top:283.8px;">1月15日</div>
<div class="xl" style="left:412.3px;top:283.8px;">1月29日</div>
<div class="xl" style="left:422.7px;top:283.8px;">2月12日</div>
<div class="xl" style="left:433.2px;top:283.8px;">2月26日</div>
<div class="xl" style="left:443.6px;top:283.8px;">3月11日</div>
<div class="xl" style="left:454.0px;top:283.8px;">3月25日</div>
<div class="xl" style="left:464.4px;top:283.8px;">4月8日</div>
<div class="xl" style="left:474.8px;top:283.8px;">4月22日</div>
<div class="xl" style="left:485.2px;top:283.8px;">5月6日</div>
<div class="xl" style="left:495.7px;top:283.8px;">5月20日</div>
<div class="xl" style="left:506.1px;top:283.8px;">6月3日</div>
<div class="xl" style="left:516.5px;top:283.8px;">6月17日</div>
<div class="xl" style="left:526.9px;top:283.8px;">7月1日</div>
<div class="xl" style="left:537.3px;top:283.8px;">7月15日</div>
<div class="xl" style="left:547.7px;top:283.8px;">7月29日</div>
<div class="xl" style="left:558.1px;top:283.8px;">8月12日</div>
<div class="xl" style="left:568.6px;top:283.8px;">8月26日</div>
<div class="xl" style="left:579.0px;top:283.8px;">9月9日</div>
<div class="xl" style="left:589.4px;top:283.8px;">9月23日</div>
<div class="xl" style="left:599.8px;top:283.8px;">10月7日</div>
<div class="xl" style="left:610.2px;top:283.8px;">10月21日</div>
<div class="xl" style="left:620.6px;top:283.8px;">11月4日</div>
<div class="xl" style="left:631.1px;top:283.8px;">11月18日</div>
<div class="xl" style="left:641.5px;top:283.8px;">12月2日</div>
<div class="xl" style="left:651.9px;top:283.8px;">12月16日</div>
<div class="xl" style="left:662.3px;top:283.8px;">12月30日</div>
<div class="ttl" style="letter-spacing:0px;left:111.4px;top:291.5px;">可用天数</div>
<div class="a" style="left:182.0px;top:297.2px;width:17.5px;height:1.4px;background:#6b96c9;"></div>
<div class="leg" style="left:202.0px;top:294.0px;">2019年</div>
<div class="a" style="left:228.0px;top:297.2px;width:17.5px;height:1.4px;background:#23a267;"></div>
<div class="leg" style="left:248.0px;top:294.0px;">2020年</div>
<div class="a" style="left:274.0px;top:297.2px;width:17.5px;height:1.4px;background:#de1f2c;"></div>
<div class="leg" style="left:294.0px;top:294.0px;">2021年</div>
<div class="unit" style="left:66.5px;top:300.0px;">单位:&nbsp;&nbsp;&nbsp;日</div>
<div class="yl" style="left:52px;top:312.3px;">35</div>
<div class="yl" style="left:52px;top:331.4px;">30</div>
<div class="yl" style="left:52px;top:350.4px;">25</div>
<div class="yl" style="left:52px;top:369.5px;">20</div>
<div class="yl" style="left:52px;top:388.5px;">15</div>
<div class="yl" style="left:52px;top:407.6px;">10</div>
<div class="yl" style="left:52px;top:426.6px;">5</div>
<div class="xl" style="left:78.8px;top:474.6px;">1月1日</div>
<div class="xl" style="left:89.2px;top:474.6px;">1月15日</div>
<div class="xl" style="left:99.7px;top:474.6px;">1月29日</div>
<div class="xl" style="left:110.1px;top:474.6px;">2月12日</div>
<div class="xl" style="left:120.5px;top:474.6px;">2月26日</div>
<div class="xl" style="left:130.9px;top:474.6px;">3月11日</div>
<div class="xl" style="left:141.4px;top:474.6px;">3月25日</div>
<div class="xl" style="left:151.8px;top:474.6px;">4月8日</div>
<div class="xl" style="left:162.2px;top:474.6px;">4月22日</div>
<div class="xl" style="left:172.6px;top:474.6px;">5月6日</div>
<div class="xl" style="left:183.1px;top:474.6px;">5月20日</div>
<div class="xl" style="left:193.5px;top:474.6px;">6月3日</div>
<div class="xl" style="left:203.9px;top:474.6px;">6月17日</div>
<div class="xl" style="left:214.3px;top:474.6px;">7月1日</div>
<div class="xl" style="left:224.8px;top:474.6px;">7月15日</div>
<div class="xl" style="left:235.2px;top:474.6px;">7月29日</div>
<div class="xl" style="left:245.6px;top:474.6px;">8月12日</div>
<div class="xl" style="left:256.1px;top:474.6px;">8月26日</div>
<div class="xl" style="left:266.5px;top:474.6px;">9月9日</div>
<div class="xl" style="left:276.9px;top:474.6px;">9月23日</div>
<div class="xl" style="left:287.3px;top:474.6px;">10月7日</div>
<div class="xl" style="left:297.8px;top:474.6px;">10月21日</div>
<div class="xl" style="left:308.2px;top:474.6px;">11月4日</div>
<div class="xl" style="left:318.6px;top:474.6px;">11月18日</div>
<div class="xl" style="left:329.0px;top:474.6px;">12月2日</div>
<div class="xl" style="left:339.5px;top:474.6px;">12月16日</div>
<div class="xl" style="left:349.9px;top:474.6px;">12月30日</div>
<div class="ttl" style="letter-spacing:1px;left:417px;top:291.5px;">供煤</div>
<div class="a" style="left:457.3px;top:297.8px;width:17.5px;height:1.4px;background:#6b96c9;"></div>
<div class="leg" style="left:477.3px;top:294.6px;">2019年</div>
<div class="a" style="left:503.90000000000003px;top:297.8px;width:17.5px;height:1.4px;background:#23a267;"></div>
<div class="leg" style="left:523.9000000000001px;top:294.6px;">2020年</div>
<div class="a" style="left:550.5px;top:297.8px;width:17.5px;height:1.4px;background:#de1f2c;"></div>
<div class="leg" style="left:570.5px;top:294.6px;">2021年</div>
<div class="unit" style="left:373.0px;top:299.9px;">单位:&nbsp;&nbsp;万吨</div>
<div class="yl" style="left:364.3px;top:312.9px;">550</div>
<div class="yl" style="left:364.3px;top:325.6px;">500</div>
<div class="yl" style="left:364.3px;top:338.3px;">450</div>
<div class="yl" style="left:364.3px;top:351.0px;">400</div>
<div class="yl" style="left:364.3px;top:363.8px;">350</div>
<div class="yl" style="left:364.3px;top:376.4px;">300</div>
<div class="yl" style="left:364.3px;top:389.1px;">250</div>
<div class="yl" style="left:364.3px;top:401.8px;">200</div>
<div class="yl" style="left:364.3px;top:414.5px;">150</div>
<div class="yl" style="left:364.3px;top:427.2px;">100</div>
<div class="xl" style="left:391.5px;top:474.6px;">1月1日</div>
<div class="xl" style="left:401.9px;top:474.6px;">1月15日</div>
<div class="xl" style="left:412.3px;top:474.6px;">1月29日</div>
<div class="xl" style="left:422.7px;top:474.6px;">2月12日</div>
<div class="xl" style="left:433.2px;top:474.6px;">2月26日</div>
<div class="xl" style="left:443.6px;top:474.6px;">3月11日</div>
<div class="xl" style="left:454.0px;top:474.6px;">3月25日</div>
<div class="xl" style="left:464.4px;top:474.6px;">4月8日</div>
<div class="xl" style="left:474.8px;top:474.6px;">4月22日</div>
<div class="xl" style="left:485.2px;top:474.6px;">5月6日</div>
<div class="xl" style="left:495.7px;top:474.6px;">5月20日</div>
<div class="xl" style="left:506.1px;top:474.6px;">6月3日</div>
<div class="xl" style="left:516.5px;top:474.6px;">6月17日</div>
<div class="xl" style="left:526.9px;top:474.6px;">7月1日</div>
<div class="xl" style="left:537.3px;top:474.6px;">7月15日</div>
<div class="xl" style="left:547.7px;top:474.6px;">7月29日</div>
<div class="xl" style="left:558.1px;top:474.6px;">8月12日</div>
<div class="xl" style="left:568.6px;top:474.6px;">8月26日</div>
<div class="xl" style="left:579.0px;top:474.6px;">9月9日</div>
<div class="xl" style="left:589.4px;top:474.6px;">9月23日</div>
<div class="xl" style="left:599.8px;top:474.6px;">10月7日</div>
<div class="xl" style="left:610.2px;top:474.6px;">10月21日</div>
<div class="xl" style="left:620.6px;top:474.6px;">11月4日</div>
<div class="xl" style="left:631.1px;top:474.6px;">11月18日</div>
<div class="xl" style="left:641.5px;top:474.6px;">12月2日</div>
<div class="xl" style="left:651.9px;top:474.6px;">12月16日</div>
<div class="xl" style="left:662.3px;top:474.6px;">12月30日</div>
<svg class="a" style="left:0;top:0;" width="680" height="477"><line x1="79.5" y1="125.5" x2="354.5" y2="125.5" stroke="#e0e0e0" stroke-width="1"/><line x1="79.5" y1="144.6" x2="354.5" y2="144.6" stroke="#e0e0e0" stroke-width="1"/><line x1="79.5" y1="163.7" x2="354.5" y2="163.7" stroke="#e0e0e0" stroke-width="1"/><line x1="79.5" y1="182.7" x2="354.5" y2="182.7" stroke="#e0e0e0" stroke-width="1"/><line x1="79.5" y1="201.8" x2="354.5" y2="201.8" stroke="#e0e0e0" stroke-width="1"/><line x1="79.5" y1="220.9" x2="354.5" y2="220.9" stroke="#e0e0e0" stroke-width="1"/><line x1="79.5" y1="240.0" x2="354.5" y2="240.0" stroke="#e0e0e0" stroke-width="1"/><line x1="392" y1="126.3" x2="665.5" y2="126.3" stroke="#e0e0e0" stroke-width="1"/><line x1="392" y1="138.9" x2="665.5" y2="138.9" stroke="#e0e0e0" stroke-width="1"/><line x1="392" y1="151.4" x2="665.5" y2="151.4" stroke="#e0e0e0" stroke-width="1"/><line x1="392" y1="164.0" x2="665.5" y2="164.0" stroke="#e0e0e0" stroke-width="1"/><line x1="392" y1="176.5" x2="665.5" y2="176.5" stroke="#e0e0e0" stroke-width="1"/><line x1="392" y1="189.1" x2="665.5" y2="189.1" stroke="#e0e0e0" stroke-width="1"/><line x1="392" y1="201.7" x2="665.5" y2="201.7" stroke="#e0e0e0" stroke-width="1"/><line x1="392" y1="214.2" x2="665.5" y2="214.2" stroke="#e0e0e0" stroke-width="1"/><line x1="392" y1="226.8" x2="665.5" y2="226.8" stroke="#e0e0e0" stroke-width="1"/><line x1="392" y1="239.3" x2="665.5" y2="239.3" stroke="#e0e0e0" stroke-width="1"/><line x1="79.5" y1="315.8" x2="354.5" y2="315.8" stroke="#e0e0e0" stroke-width="1"/><line x1="79.5" y1="334.9" x2="354.5" y2="334.9" stroke="#e0e0e0" stroke-width="1"/><line x1="79.5" y1="353.9" x2="354.5" y2="353.9" stroke="#e0e0e0" stroke-width="1"/><line x1="79.5" y1="373.0" x2="354.5" y2="373.0" stroke="#e0e0e0" stroke-width="1"/><line x1="79.5" y1="392.0" x2="354.5" y2="392.0" stroke="#e0e0e0" stroke-width="1"/><line x1="79.5" y1="411.1" x2="354.5" y2="411.1" stroke="#e0e0e0" stroke-width="1"/><line x1="79.5" y1="430.1" x2="354.5" y2="430.1" stroke="#e0e0e0" stroke-width="1"/><line x1="391.5" y1="315.8" x2="665.5" y2="315.8" stroke="#e0e0e0" stroke-width="1"/><line x1="391.5" y1="328.5" x2="665.5" y2="328.5" stroke="#e0e0e0" stroke-width="1"/><line x1="391.5" y1="341.2" x2="665.5" y2="341.2" stroke="#e0e0e0" stroke-width="1"/><line x1="391.5" y1="353.9" x2="665.5" y2="353.9" stroke="#e0e0e0" stroke-width="1"/><line x1="391.5" y1="366.6" x2="665.5" y2="366.6" stroke="#e0e0e0" stroke-width="1"/><line x1="391.5" y1="379.3" x2="665.5" y2="379.3" stroke="#e0e0e0" stroke-width="1"/><line x1="391.5" y1="392.0" x2="665.5" y2="392.0" stroke="#e0e0e0" stroke-width="1"/><line x1="391.5" y1="404.7" x2="665.5" y2="404.7" stroke="#e0e0e0" stroke-width="1"/><line x1="391.5" y1="417.4" x2="665.5" y2="417.4" stroke="#e0e0e0" stroke-width="1"/><line x1="391.5" y1="430.1" x2="665.5" y2="430.1" stroke="#e0e0e0" stroke-width="1"/><polyline points="81.7,171.0 83.2,169.1 84.7,169.8 86.8,168.1 87.7,168.7 89.2,167.7 90.7,168.4 92.7,168.8 93.7,171.7 95.2,174.4 96.7,178.5 98.6,182.0 99.7,187.8 101.5,195.3 102.7,199.0 104.2,201.9 105.2,205.6 107.2,208.6 108.9,211.5 110.2,206.9 111.7,203.1 113.3,198.2 114.7,193.6 116.2,187.1 117.7,182.0 119.2,176.8 120.6,173.2 122.2,176.7 123.7,181.3 125.0,183.5 126.7,184.5 128.7,185.0 129.7,189.5 130.9,192.4 133.1,187.2 134.2,188.5 135.7,192.7 136.8,193.8 138.7,195.0 140.2,194.2 141.7,195.6 142.7,195.3 144.7,197.4 146.2,196.4 147.7,197.8 148.6,198.2 150.7,202.4 152.2,203.5 153.0,205.6 153.7,203.6 155.2,201.6 156.7,197.4 157.4,196.8 158.2,198.2 159.7,202.3 161.8,207.0 162.7,206.8 164.2,205.0 166.2,204.0 167.2,204.0 168.7,205.9 170.6,205.6 171.7,213.4 172.9,220.3 174.7,213.7 175.9,208.5 177.7,213.4 179.2,215.2 180.3,218.1 182.2,213.9 183.7,212.2 184.7,210.0 186.7,208.6 188.4,205.6 189.7,209.6 191.3,212.2 192.7,211.7 194.2,209.2 195.7,208.9 197.2,207.0 198.7,204.8 200.2,201.5 201.6,199.7 203.2,196.1 204.6,193.8 206.2,192.4 207.7,192.8 209.0,191.6 210.7,196.2 212.6,201.2 213.7,199.1 215.2,194.6 217.1,190.9 218.2,192.4 219.7,196.8 221.5,199.7 222.7,194.5 224.4,186.5 225.7,181.9 227.2,176.8 228.7,172.3 229.6,168.8 231.7,168.1 233.2,167.4 234.7,172.2 236.2,176.2 237.7,177.6 239.2,178.3 240.6,179.9 242.8,183.5 243.7,181.8 245.0,178.4 246.7,179.5 248.2,179.9 250.1,181.3 251.2,182.6 252.7,187.3 253.8,189.4 255.7,188.1 257.2,185.1 258.2,184.3 260.2,183.6 261.7,185.2 263.2,184.4 264.1,185.0 266.3,193.8 267.7,193.8 269.2,191.7 271.2,190.9 272.2,192.7 273.7,198.1 275.6,202.6 276.7,204.8 278.2,205.9 280.0,209.3 281.2,207.0 282.7,206.3 283.7,204.1 285.7,204.7 287.2,203.4 288.7,203.5 290.4,203.4 291.7,203.1 293.2,201.2 294.8,201.2 296.2,202.2 297.7,204.9 299.2,204.6 300.6,206.3 302.2,201.5 303.6,198.2 305.2,198.9 306.7,201.5 308.0,202.6 309.7,199.3 311.2,194.8 312.7,192.9 313.9,189.4 315.7,192.1 316.8,193.1 318.7,189.5 320.2,185.8 321.7,183.5 322.7,181.3 324.7,181.0 326.2,179.0 327.7,179.1 328.6,177.6 330.7,177.5 332.2,174.9 333.7,175.1 334.5,174.7 335.2,174.5 336.7,172.0 338.2,171.6 339.7,169.0 340.4,168.8 341.2,167.8 342.7,168.2 344.2,165.1 346.2,164.4 347.2,163.9 348.7,164.8 350.2,163.3 351.7,164.4 353.6,163.7" fill="none" stroke="#6b96c9" stroke-width="1.6" stroke-linejoin="round"/><polyline points="81.7,166.6 83.2,165.4 84.7,165.5 86.1,165.1 87.7,165.0 89.0,163.2 90.7,166.9 92.0,168.8 93.7,175.7 95.6,182.0 96.7,187.3 97.9,192.4 100.0,201.2 101.2,202.7 103.0,206.3 104.2,205.8 105.7,208.1 107.4,207.8 108.7,207.9 110.2,207.0 111.7,207.6 113.3,207.0 114.7,207.6 116.2,206.0 117.7,206.4 118.4,206.3 119.2,207.0 120.6,207.8 122.1,202.6 123.7,197.6 125.0,195.3 126.7,194.5 128.7,193.8 129.7,194.8 131.2,198.8 132.4,199.7 134.2,198.9 135.7,195.3 136.8,195.3 138.7,195.1 140.2,195.8 141.7,194.1 142.7,194.6 144.7,198.0 146.4,202.6 147.7,197.0 149.2,193.2 150.8,186.5 152.2,195.7 153.0,199.7 153.7,198.0 155.2,191.0 155.9,188.7 156.7,188.3 158.2,189.5 159.6,189.4 161.2,195.5 162.6,199.7 164.2,198.4 166.2,195.3 167.2,195.3 168.7,192.2 170.6,190.9 172.2,207.0 173.2,201.1 174.4,192.4 176.2,195.6 177.7,197.1 179.6,201.2 180.7,200.4 182.2,200.6 183.2,199.0 185.2,200.0 186.2,199.7 188.2,198.3 189.7,196.4 191.3,195.3 192.7,196.2 194.2,199.6 195.0,200.4 195.7,198.5 197.2,191.6 198.7,188.1 199.4,185.0 200.2,184.2 201.7,181.4 203.8,179.9 204.7,179.1 206.2,181.5 208.2,182.0 209.2,185.0 211.2,190.9 212.2,188.3 214.1,182.0 215.2,181.7 216.7,179.8 217.8,179.1 220.0,187.9 221.2,186.0 222.9,182.0 224.2,182.9 225.7,183.0 226.6,184.3 228.7,186.2 230.3,188.7 231.7,186.3 233.2,186.2 234.7,183.5 236.2,181.5 237.6,177.6 239.2,173.8 240.7,168.0 242.0,164.4 243.7,166.1 245.2,168.4 246.5,169.6 248.2,170.4 249.7,170.0 251.2,171.0 252.4,171.0 254.2,176.6 255.3,179.1 257.2,180.7 258.0,180.6 258.7,180.9 260.2,180.2 261.7,180.6 263.2,179.7 263.9,180.6 264.7,183.1 266.1,190.1 267.7,189.7 269.8,190.9 270.7,191.6 272.7,195.3 273.7,197.0 275.6,202.6 276.7,202.3 278.2,204.1 279.3,204.1 281.2,203.9 283.0,202.6 284.2,202.4 285.7,202.3 287.2,203.1 288.9,202.6 290.2,202.3 291.7,201.5 293.2,202.1 294.8,201.2 296.2,198.2 297.7,193.8 299.2,194.1 300.7,192.4 302.2,193.0 303.7,191.9 305.1,191.6 306.7,185.7 308.0,182.0 309.7,182.1 311.2,183.6 313.1,183.5 314.2,184.0 315.7,182.2 316.8,182.0 318.7,177.2 319.8,174.7 321.7,171.8 323.2,171.4 324.2,170.3 326.2,167.2 327.7,162.5 328.6,161.5 330.7,157.7 332.2,156.5 333.7,153.2 334.5,152.6 335.2,150.9 336.7,150.9 338.2,148.1 339.7,147.9 340.4,146.7 341.2,147.1 342.7,145.7 344.2,146.3 346.2,145.2 347.2,146.2 348.7,145.2 350.2,146.1 352.1,145.2 353.2,146.6 354.3,146.7" fill="none" stroke="#23a267" stroke-width="1.6" stroke-linejoin="round"/><polyline points="81.7,150.4 83.2,145.4 84.7,142.3 85.4,139.8 86.2,140.5 88.3,141.5 89.2,142.2 91.2,142.3 92.7,145.2 93.7,145.3 95.2,147.2 97.1,147.4 98.2,148.6 99.7,148.6 101.5,149.6 102.7,149.4 104.2,151.4 105.2,151.1 107.4,156.2 108.9,162.1 110.2,163.7 111.8,165.1 113.2,170.5 114.0,172.4 114.7,173.8 116.2,176.5 117.0,178.3 117.7,177.3 118.4,177.6 119.2,174.2 120.6,170.2 122.2,166.5 123.7,165.3 125.0,162.1" fill="none" stroke="#de1f2c" stroke-width="1.6" stroke-linejoin="round"/><polyline points="126.5,158.4 128.0,157.8 129.5,157.0 131.0,154.2 133.1,151.5 134.0,152.3 135.4,154.0 136.8,158.4 138.5,160.5 139.8,161.4 141.5,162.7 143.0,162.3 144.2,163.6 145.6,169.5 147.5,169.7 149.0,167.6 150.0,168.0 152.0,166.9 153.7,167.3 155.0,172.4 155.9,176.1 158.0,177.2 159.5,179.9 160.4,179.8 162.5,183.4 163.3,184.2 164.0,185.0 165.5,184.2 167.0,185.7 168.5,183.8 169.2,184.9 170.0,183.5 171.5,186.9 173.0,189.2 173.7,191.6 174.5,191.4 175.9,190.9 178.1,181.3 179.0,182.2 180.5,183.0 181.8,184.3 183.5,182.8 184.7,182.8 186.5,185.5 188.4,190.1 189.5,189.3 191.3,188.7 192.5,185.0 194.0,180.8 195.0,177.6 197.2,176.8 198.5,173.6 199.4,171.7 201.5,167.5 203.0,167.1 204.5,163.9 205.3,162.9 206.0,162.4 207.5,163.6 209.0,162.3 210.4,162.9 212.0,161.7 214.1,160.6 215.0,159.6 216.5,160.0 218.5,159.2 219.5,157.5 221.5,151.8 222.5,150.3 224.0,147.1 225.1,145.9 227.0,143.6 228.1,143.7 230.0,152.8 231.0,157.7 233.2,165.1 234.5,160.2 236.0,153.1 236.9,149.6 239.0,153.7 239.9,156.2 242.0,146.2 242.8,143.0 243.5,142.8 245.0,145.0 246.5,145.9 248.0,149.4 250.1,153.3 251.0,157.0 252.4,162.1 254.6,160.6 255.5,163.7 257.0,170.8 258.0,174.7 260.2,179.1 261.5,175.0 263.0,171.0 263.9,167.4 266.1,169.6 267.5,175.2 269.0,182.0 270.5,176.9 271.2,174.7 272.0,179.2 272.7,184.3 273.5,180.3 274.2,176.9 275.0,176.8 277.1,178.4 278.0,182.7 279.3,189.4 281.5,182.0 282.5,183.8 284.0,184.7 285.5,188.2 287.4,190.1 288.5,188.5 290.4,185.7 291.5,187.1 293.0,187.8 294.0,189.4 296.0,186.9 297.7,185.7 299.0,182.3 300.6,179.1 302.0,179.5 303.5,180.4 304.3,180.6 305.0,180.0 306.5,176.8 308.0,175.4 308.7,174.0 309.5,175.3 311.0,175.1 313.1,178.4 314.0,177.1 315.5,177.5 317.0,175.6 318.3,174.7 320.0,172.4 321.2,171.8 323.0,170.5 324.5,170.4 326.0,169.1 327.1,168.8 329.0,167.3 330.5,166.9 331.5,165.9 333.5,164.5 335.0,161.3 336.0,160.7 338.1,154.8 339.5,154.4 341.0,151.4 342.6,151.1 344.0,151.0 345.5,152.5 346.2,152.1" fill="none" stroke="#de1f2c" stroke-width="1.6" stroke-linejoin="round"/><polyline points="393.9,196.3 395.4,197.0 396.9,197.7 398.4,198.6 399.8,199.3 401.4,199.7 402.9,200.2 404.4,200.8 405.9,201.4 407.4,201.9 408.6,202.2 410.4,199.8 411.9,197.6 413.4,195.6 414.5,194.1 416.4,193.8 417.9,193.6 419.4,193.4 420.4,193.4 422.4,193.9 423.9,194.6 425.4,195.0 426.9,195.5 427.7,195.6 428.4,196.1 429.9,196.9 431.4,197.9 432.9,198.9 433.6,199.3 434.4,200.1 435.9,201.4 437.4,202.7 439.5,204.4 440.4,205.3 441.9,207.3 443.9,209.6 444.9,209.1 446.4,208.3 447.9,207.5 449.8,206.6 450.9,205.9 452.4,204.8 453.9,204.1 455.6,202.9 456.9,203.4 458.6,203.7 459.9,205.0 461.4,206.4 463.0,208.1 464.4,208.9 465.9,209.6 467.4,210.4 468.9,211.2 470.4,211.8 471.9,211.0 473.4,210.2 474.9,209.5 476.2,208.8 477.9,206.7 479.4,204.7 480.9,202.9 482.1,201.5 483.9,199.2 485.4,197.0 486.9,195.0 488.8,192.6 489.9,191.3 491.4,189.3 492.9,187.5 494.7,185.3 495.9,183.6 497.4,181.4 498.9,179.4 500.6,176.8 501.9,174.8 503.4,172.8 504.9,170.6 505.7,169.5 506.4,169.7 507.9,169.8 509.4,170.0 510.1,170.2 510.9,169.4 512.4,167.5 513.9,165.9 515.3,164.3 516.9,163.3 518.4,161.9 520.4,160.6 521.4,159.4 522.9,157.7 524.4,156.2 525.6,154.8 527.4,153.6 528.9,152.5 530.0,151.8 531.9,150.6 533.4,149.6 534.9,148.7 535.9,148.1 537.9,147.0 539.4,146.4 540.3,145.9 542.4,147.5 543.9,148.5 544.7,148.9 545.4,149.8 546.9,151.5 548.4,153.0 549.9,154.8 551.4,156.9 552.9,159.2 555.0,162.1 555.9,163.4 557.4,165.3 559.4,168.0 560.4,168.8 561.9,169.6 563.4,170.6 565.3,171.7 566.4,172.2 567.9,172.9 569.4,173.7 570.9,174.3 572.0,175.0 573.9,176.5 575.4,177.8 576.9,178.9 578.4,180.0 579.4,180.9 581.4,182.1 582.9,183.1 584.4,184.3 586.0,185.3 587.4,184.1 588.9,182.9 590.4,181.6 591.1,181.2 591.9,179.9 593.4,177.2 594.9,174.5 597.0,170.9 597.9,169.6 599.4,167.7 600.9,165.8 602.4,164.0 604.4,161.4 605.4,160.6 606.9,159.5 608.4,158.5 609.9,157.4 611.7,156.2 612.9,155.0 614.4,153.1 615.9,151.5 617.6,149.6 618.9,147.3 620.4,144.4 622.0,141.5 623.4,140.6 624.9,139.3 626.4,138.1 627.9,137.1 629.4,136.1 630.9,135.1 632.4,134.3 633.8,133.4 635.4,133.9 636.9,134.6 638.2,134.9 639.9,137.1 641.4,138.9 642.9,140.7 644.1,142.3 645.9,143.8 647.4,145.1 648.9,146.4 649.9,147.4 651.9,148.3 653.4,149.3 654.9,149.8 656.4,150.5 657.3,151.1 659.4,153.1 660.9,154.4 662.4,155.8 663.9,157.0 665.4,158.4" fill="none" stroke="#6b96c9" stroke-width="1.7" stroke-linejoin="round"/><polyline points="393.1,160.6 394.6,162.3 396.1,164.0 397.6,165.6 399.1,167.3 401.2,169.5 402.1,170.7 403.6,172.6 405.6,175.0 406.6,176.2 408.1,178.3 410.0,180.9 411.1,182.7 412.6,184.8 414.1,187.1 415.9,189.7 417.1,190.9 418.6,192.7 420.1,194.3 421.8,196.3 423.1,197.2 424.6,198.3 426.1,199.2 427.0,200.0 429.1,201.6 430.6,202.9 432.1,201.7 433.6,200.7 435.1,200.1 436.6,199.3 438.0,198.5 439.6,197.2 441.1,196.3 442.6,195.0 443.9,194.1 445.6,193.1 447.1,192.0 448.6,191.0 449.8,190.4 451.6,189.1 453.4,187.5 454.6,187.4 456.1,187.4 457.9,187.5 459.1,188.6 460.6,189.8 461.5,190.4 463.6,192.8 465.1,194.8 465.9,195.6 466.6,195.8 468.1,196.4 469.6,196.7 470.4,197.1 471.1,197.1 472.6,196.7 474.1,196.5 475.6,196.1 477.7,195.6 478.6,195.0 480.1,194.1 481.6,193.1 483.6,191.9 484.6,191.5 486.1,190.9 488.0,190.4 489.1,190.1 490.6,190.0 491.8,189.7 493.6,188.2 495.1,187.2 496.6,186.0 497.6,185.3 499.6,184.1 501.1,183.5 502.6,182.5 504.3,181.6 505.6,181.9 507.1,182.3 508.6,182.8 510.1,183.1 511.6,181.6 513.1,180.5 514.6,178.8 515.3,178.3 516.1,177.4 517.6,175.7 519.1,173.8 520.4,172.4 522.1,169.7 523.6,167.1 525.1,164.7 527.1,161.4 528.1,160.8 529.6,160.0 531.5,159.2 532.6,158.5 534.1,158.0 535.6,157.0 537.1,156.4 538.8,155.5 540.1,155.3 541.6,154.9 543.1,154.4 544.7,154.0 546.1,154.3 547.6,154.7 549.1,155.2 550.6,155.5 552.1,157.8 553.6,160.5 555.1,162.9 556.5,165.1 558.1,166.8 559.6,168.1 560.9,169.5 562.6,170.3 564.1,170.6 565.6,171.3 567.1,172.0 568.2,172.4 570.1,173.1 571.6,173.4 573.1,174.0 574.6,174.3 575.6,174.6 577.6,173.2 579.1,172.2 580.6,171.2 582.3,170.2 583.6,169.4 585.1,168.7 586.7,168.0 588.1,166.7 589.6,165.2 591.1,163.5 592.6,162.0 594.1,160.6 595.6,158.7 597.1,156.4 598.6,154.3 600.1,152.1 601.4,150.4 603.1,148.1 604.6,146.1 606.1,143.9 607.3,142.3 609.1,140.7 610.6,139.3 612.1,138.2 613.2,137.1 615.1,135.3 616.6,134.2 618.1,133.0 619.1,132.0 621.1,131.4 622.6,131.2 624.1,130.8 624.9,130.5 625.6,130.2 627.1,129.7 628.6,128.8 629.4,128.6 630.1,129.1 631.6,130.2 633.1,131.6 633.8,132.0 634.6,133.1 636.1,135.2 637.6,137.5 639.6,140.1 640.6,142.0 642.1,144.6 643.6,147.1 645.5,150.4 646.6,152.3 648.1,155.0 649.6,157.5 651.4,160.6 652.6,163.2 654.1,166.7 655.6,170.0 657.3,173.9 658.6,176.6 660.1,180.0 661.6,183.2 663.1,186.3 663.9,188.0 664.6,188.5 666.1,189.7" fill="none" stroke="#23a267" stroke-width="1.7" stroke-linejoin="round"/><polyline points="393.9,191.2 395.4,193.6 396.8,195.6 398.4,197.0 399.9,198.2 401.2,199.3 402.9,199.5 404.4,199.7 405.6,200.0 407.4,199.4 408.9,198.8 410.4,198.3 411.5,197.8 413.4,197.1 414.9,196.6 416.4,195.9 417.4,195.6 419.4,195.1 420.9,194.6 422.4,194.1 423.9,193.7 424.8,193.4 426.9,193.6 428.4,193.6 429.9,193.8 431.4,194.0 432.9,194.0 433.6,194.1 434.4,194.9 435.9,196.1 438.0,197.8 438.9,199.1 440.4,201.0 441.9,203.0 443.9,205.9 444.9,207.2 446.4,209.1 447.9,210.8 449.8,213.2 450.9,214.6 452.4,216.7 453.9,219.0 455.6,221.3 456.9,222.1 458.4,223.2 459.9,224.0 461.5,225.0 462.9,225.3 464.4,225.9 465.9,226.2 466.7,226.5 467.4,226.2 468.9,225.2 470.4,224.2 471.9,223.3 472.6,222.8 473.4,222.7 474.9,222.4 476.4,222.1 477.9,221.5 479.2,221.3 480.9,220.6 482.9,219.9 483.9,218.8 485.4,216.9 486.9,215.3 488.0,214.0 489.9,214.4 492.0,215.0 492.9,214.6 494.4,213.6 495.9,212.7 497.6,211.8 498.9,209.7 500.4,207.2 501.9,204.7 503.5,202.2 504.9,202.7 506.4,203.2 507.9,203.8 509.4,204.4 510.9,204.8 512.4,205.1 513.9,205.2 515.4,205.7 516.8,205.9 518.4,205.9 519.9,206.1 521.4,206.4 522.9,206.4 524.4,206.4 525.6,206.6 527.4,207.3 528.9,208.0 530.7,208.8 531.9,209.9 533.4,211.6 534.9,212.9 535.9,214.0 537.9,217.7 539.4,220.5 540.3,222.1 542.4,223.4 543.9,224.4 545.4,225.1 546.2,225.7 546.9,226.2 548.4,226.9 549.9,227.6 551.4,228.5 553.5,229.4 554.4,230.1 555.9,231.4 557.4,232.6 558.9,233.7 560.9,235.3 561.9,234.6 563.4,233.7 565.3,232.4 566.4,231.8 567.9,231.0 569.4,230.4 570.9,229.5 572.4,228.8 574.2,227.9 575.4,228.7 576.9,229.4 578.4,230.2 579.4,230.9 581.4,231.0 582.9,231.3 584.4,231.5 585.2,231.6 585.9,231.4 587.4,231.3 588.9,231.3 590.4,230.9 591.1,230.9 591.9,230.5 593.4,229.9 594.9,229.0 596.4,228.2 598.5,227.2 599.4,226.4 600.9,225.1 602.4,223.7 603.6,222.8 605.4,221.9 606.9,221.1 608.0,220.6 609.9,218.8 611.7,216.9 612.9,214.3 614.4,211.1 616.1,207.4 617.4,203.9 618.9,199.7 619.8,197.1 621.9,190.6 622.7,188.2 623.4,186.7 624.9,183.3 625.7,181.6 626.4,181.0 627.9,179.8 629.4,176.0 630.9,172.3 632.3,168.7 633.9,163.2 635.4,157.8 636.7,153.3 638.4,149.8 639.9,146.9 641.1,144.5 642.9,142.1 644.4,140.2 645.9,138.6 647.0,137.1 648.9,134.9 650.4,133.4 651.9,131.6 652.9,130.5 654.9,129.8 656.4,129.1 657.3,128.6" fill="none" stroke="#de1f2c" stroke-width="1.7" stroke-linejoin="round"/><polyline points="81.7,382.8 83.2,383.0 84.7,384.1 86.1,384.3 87.7,386.7 89.0,387.9 90.7,386.9 92.7,385.0 93.7,384.2 95.2,382.1 97.1,380.6 98.2,376.4 100.0,371.8 101.2,366.6 102.3,362.9 103.0,358.5 104.2,357.5 105.7,353.4 107.2,351.7 108.1,349.7 110.2,356.1 111.8,360.0 113.2,363.3 114.7,365.9 115.5,368.8 116.2,370.1 117.7,375.5 119.2,381.1 119.9,384.3 120.7,382.9 122.2,380.7 123.6,378.4 125.2,378.7 126.7,377.1 128.0,377.6 129.7,377.8 131.2,379.6 132.4,379.1 134.2,376.9 135.4,374.7 137.2,374.7 138.7,372.8 140.2,372.8 141.2,371.8 143.2,371.8 144.7,369.7 146.2,370.4 147.1,369.6 149.2,370.0 150.7,368.8 151.5,368.8 152.2,369.0 153.7,371.6 155.2,371.8 156.7,374.7 157.4,374.7 158.2,373.6 159.7,369.3 160.4,368.8 161.2,367.8 162.7,367.1 164.8,364.4 165.7,364.1 167.2,362.6 168.7,362.7 169.9,361.5 172.2,340.9 173.2,344.4 174.4,349.7 176.6,354.1 177.7,350.1 179.2,342.0 180.3,337.9 182.5,345.3 183.7,343.0 184.7,339.4 186.7,345.6 187.6,346.8 189.7,338.9 190.6,335.0 192.7,334.2 193.5,332.8 194.2,334.4 195.7,335.8 197.2,338.7 198.7,340.7 200.2,344.4 200.9,345.3 201.7,346.7 203.8,349.7 204.7,349.9 206.2,348.3 207.5,348.2 209.7,350.4 210.7,346.5 212.6,337.2 213.7,338.8 215.6,340.9 216.7,344.7 218.5,348.2 219.7,344.2 221.5,335.7 222.7,341.0 224.4,347.5 225.7,349.0 227.2,349.3 228.1,350.4 230.2,351.2 231.8,352.6 233.2,357.3 234.7,362.9 236.2,360.9 237.7,360.1 239.1,358.5 240.7,358.4 242.1,357.1 243.7,360.6 245.0,362.9 246.7,363.5 248.2,363.2 249.4,363.7 251.2,361.4 252.7,361.4 253.8,360.0 255.7,361.8 256.8,362.9 258.7,362.3 260.2,361.4 262.0,360.7 263.2,358.5 264.9,358.5 266.2,359.6 267.7,361.5 268.6,362.2 270.7,364.4 272.3,364.4 273.7,359.6 275.2,352.6 276.7,347.8 278.2,342.4 279.7,343.7 281.1,343.8 282.7,346.6 284.1,347.5 285.7,345.6 287.2,342.5 288.5,341.6 290.2,341.0 291.7,342.6 292.9,341.6 294.7,340.5 296.2,338.6 297.3,337.9 299.2,336.1 301.0,335.7 302.2,334.6 303.7,336.0 304.6,335.0 306.7,332.1 307.6,329.1 309.7,333.3 311.2,334.7 312.0,336.5 312.7,337.9 314.2,342.4 315.7,337.5 316.4,336.5 317.2,337.4 318.7,340.9 320.8,343.1 321.7,344.3 323.2,344.6 324.7,347.2 326.7,348.2 327.7,349.6 329.2,349.1 330.7,351.9 332.6,352.6 333.7,354.6 335.2,355.1 336.7,356.7 338.5,358.5 339.7,360.8 341.2,360.1 342.7,363.7 344.4,364.4 345.7,365.6 347.2,365.6 348.7,367.7 350.2,366.7 351.7,369.2 353.2,369.1 353.9,369.6" fill="none" stroke="#6b96c9" stroke-width="1.6" stroke-linejoin="round"/><polyline points="81.7,369.6 83.2,368.5 84.6,369.6 86.2,370.4 87.7,373.1 89.0,374.4 90.7,373.1 92.7,370.3 93.7,367.9 95.6,361.5 96.7,359.0 98.2,353.2 99.3,351.2 101.2,349.5 102.3,349.4 104.2,350.0 105.7,352.4 107.4,352.6 108.7,354.1 110.2,354.3 111.8,357.1 113.2,356.9 114.7,359.2 116.2,359.3 117.7,361.0 119.2,361.5 120.7,361.6 121.4,360.7 122.2,363.5 123.6,365.9 125.8,364.4 126.7,365.4 128.7,368.8 129.7,365.8 131.7,360.7 132.7,360.6 133.9,362.9 135.7,360.4 136.8,360.0 138.7,361.3 139.8,362.2 141.7,359.8 142.7,360.0 144.9,353.4 146.2,356.2 147.9,358.5 149.2,365.1 150.1,368.8 152.3,362.9 153.7,366.1 155.2,372.0 155.9,373.2 156.7,371.9 158.2,368.7 158.9,368.1 159.7,364.7 161.8,360.0 162.7,360.8 164.8,365.1 165.7,363.9 167.7,362.9 168.7,364.2 170.0,367.4 172.2,354.1 173.2,359.0 175.1,367.4 176.2,365.1 177.7,360.1 178.8,357.1 180.7,358.2 181.8,359.3 183.7,356.0 184.7,355.6 186.7,356.6 187.6,358.5 189.7,356.9 191.2,356.7 192.1,355.6 194.2,355.9 195.7,355.6 197.2,360.7 198.7,364.7 199.4,367.4 200.2,367.3 201.7,368.1 203.8,368.8 204.7,368.6 206.2,366.5 207.5,366.6 209.2,361.1 210.4,358.5 212.2,355.6 213.4,353.4 215.2,355.2 216.3,357.1 218.2,354.5 220.0,353.4 221.2,354.0 222.9,355.6 224.2,354.9 225.7,354.2 227.4,352.6 228.7,354.3 230.3,355.6 231.7,355.5 233.2,352.8 234.7,351.9 236.2,353.4 237.7,357.4 238.4,358.5 239.2,361.7 240.7,365.6 242.1,370.3 243.7,369.9 245.2,371.3 246.7,370.7 247.9,371.8 249.7,370.9 251.2,371.3 252.7,370.1 253.8,370.3 256.0,363.7 257.2,364.1 258.7,363.7 260.2,364.9 262.0,365.1 263.2,365.9 264.2,365.9 265.7,358.5 267.7,356.8 268.6,357.8 270.7,353.2 272.3,350.4 273.7,347.7 275.2,345.6 276.0,343.8 276.7,342.8 278.2,337.9 279.7,339.0 281.1,339.4 282.7,338.9 284.1,336.5 285.7,336.4 287.7,333.5 288.7,332.5 290.2,329.6 291.4,329.1 293.2,327.2 294.4,327.6 296.2,332.3 297.3,335.7 299.2,333.0 301.0,332.1 302.2,335.5 303.2,338.7 305.2,334.1 306.1,332.1 308.3,344.6 309.7,344.1 311.2,341.5 312.0,340.9 312.7,340.3 314.2,342.4 314.9,341.6 315.7,343.7 317.2,344.4 318.6,346.8 320.8,349.7 321.7,352.0 323.2,354.1 325.2,358.8 326.2,360.2 327.7,363.0 329.2,364.2 331.1,367.6 332.2,368.1 333.7,371.4 335.2,372.9 336.7,376.2 338.5,377.9 339.7,379.6 341.2,380.4 342.7,383.1 344.4,384.6 345.7,386.6 347.2,386.8 348.7,389.4 350.2,389.7 351.7,390.8 353.2,389.8 353.9,390.9" fill="none" stroke="#23a267" stroke-width="1.6" stroke-linejoin="round"/><polyline points="82.4,390.1 83.9,392.4 85.4,395.3 86.9,394.6 88.4,395.8 89.9,396.0 91.2,396.0 92.9,394.9 94.4,394.8 95.9,394.0 97.1,393.8 98.9,393.3 100.4,393.0 101.9,392.0 103.0,392.4 104.9,390.6 106.4,390.6 107.4,389.4 109.6,385.0 110.9,383.2 112.4,382.8 113.3,381.3 115.4,379.3 117.0,377.6 118.4,380.0 119.2,381.3 119.9,382.4 121.4,382.7 122.9,385.3 123.6,385.7 124.4,387.0 125.9,387.8 128.0,390.9 128.9,391.9 130.4,393.5 131.9,394.2 133.1,396.0 134.9,395.6 136.4,395.8 137.9,395.1 139.8,395.3 140.9,395.0 142.4,396.5 144.2,396.8 145.4,396.8 146.9,396.3 148.4,397.0 150.1,396.0 151.4,396.6 152.9,396.9 154.5,397.5 155.9,393.8 157.4,391.6 158.9,390.3 160.4,389.4 161.8,387.2 163.4,387.3 164.9,386.3 166.4,387.2 167.7,386.5 170.0,387.2 170.9,385.0 172.9,379.9 173.9,379.4 175.9,380.6 176.9,383.0 178.1,386.5 179.9,384.3 181.8,383.5 182.9,383.5 184.4,384.0 186.2,383.5 187.4,381.8 188.9,378.9 190.4,377.0 191.3,375.4 193.4,379.4 194.3,380.6 196.4,383.3 197.9,384.6 198.7,385.7 199.4,386.2 200.9,387.9 202.4,387.8 203.9,390.0 205.3,390.9 206.9,391.6 208.4,391.1 209.9,391.8 211.4,390.5 212.6,391.6 214.4,391.3 215.9,393.4 217.1,393.1 218.9,394.7 220.4,396.0 221.9,398.7 222.9,399.0 224.9,400.8 226.4,401.8 228.1,403.4 229.4,401.6 230.9,401.2 232.4,399.1 233.2,399.0 233.9,399.7 235.4,402.0 236.9,402.9 237.6,404.1 238.4,403.8 239.9,403.4 240.6,403.4 241.4,404.4 242.9,405.7 244.4,407.6 245.7,408.5 247.4,407.3 248.9,405.9 250.1,405.6 252.4,401.9 253.4,401.3 254.9,399.3 256.4,399.5 258.2,397.5 259.4,395.9 260.4,393.8 262.4,397.3 264.1,399.0 264.9,398.5 266.9,395.8 268.4,394.9 269.4,393.4 271.4,395.1 273.0,395.6 274.4,395.7 275.9,395.0 276.7,394.9 277.4,393.6 278.9,392.0 279.6,390.4 280.4,391.0 281.9,390.9 282.6,391.9 283.4,390.6 284.9,390.8 286.4,389.2 288.5,387.5 289.4,386.7 290.9,386.9 292.4,385.4 293.6,385.3 295.4,385.2 296.9,385.3 298.8,385.3 299.9,385.4 301.7,384.6 302.9,383.9 304.4,381.7 306.1,380.9 307.4,378.8 308.9,379.3 310.5,377.2 311.9,375.3 312.7,372.8 313.4,372.6 314.9,371.3 316.4,371.4 317.9,370.5 318.6,370.6 319.4,369.5 320.9,369.2 322.3,367.6 323.9,364.3 325.2,361.0 326.9,361.7 328.4,361.2 329.6,361.8 331.4,361.3 332.9,361.8 334.1,361.0 335.9,363.0 337.7,365.4 338.9,365.3 340.4,363.8 342.1,364.0 343.4,364.1 344.9,364.4 346.6,364.7" fill="none" stroke="#de1f2c" stroke-width="1.6" stroke-linejoin="round"/><polyline points="393.9,374.1 395.3,367.3 396.1,366.8 398.3,374.1 399.5,372.7 400.9,364.5 402.7,363.8 403.7,367.4 405.6,377.1 406.5,373.6 407.9,376.6 408.6,371.2 409.3,370.9 410.7,364.4 411.5,365.3 413.5,370.4 414.5,375.6 416.7,389.0 417.7,396.2 418.9,399.4 421.1,413.4 421.9,404.3 423.3,396.5 424.7,388.3 426.2,387.6 427.5,381.2 429.2,381.8 430.3,379.6 432.1,377.4 433.1,379.3 435.1,387.6 435.9,388.0 437.3,396.0 438.7,392.0 439.5,396.5 441.5,392.4 442.9,394.7 443.9,389.1 445.7,387.9 447.1,384.5 448.5,387.2 449.8,381.8 451.3,385.8 452.7,383.4 454.1,387.2 455.5,385.5 457.1,387.6 458.3,388.3 459.7,393.6 461.5,392.1 462.5,396.0 463.9,393.5 465.3,399.5 466.7,397.3 467.4,399.4 468.1,396.2 469.5,397.2 470.4,390.6 472.3,395.2 473.7,391.5 474.8,395.0 476.5,387.2 477.9,389.3 479.2,384.7 480.7,390.1 482.1,389.7 483.5,398.5 484.4,397.1 486.3,397.5 487.7,391.7 489.1,393.2 490.3,391.2 491.9,395.1 493.2,394.1 494.7,393.5 496.1,386.5 497.5,387.7 499.1,383.8 500.3,389.0 501.7,385.1 503.1,388.9 505.0,388.2 505.9,391.7 507.3,393.6 508.7,404.1 509.4,403.7 510.1,400.5 511.6,386.8 512.9,385.4 514.3,375.4 515.3,376.5 517.1,379.9 518.5,390.4 519.7,389.7 521.3,384.4 522.7,374.7 523.4,375.0 524.1,375.0 525.5,385.7 527.1,389.0 528.3,391.0 529.7,379.3 531.5,379.4 532.5,374.7 533.9,381.1 535.9,375.7 536.7,382.3 538.1,380.0 539.5,385.7 541.0,388.2 542.3,390.6 543.7,382.2 545.1,383.3 546.2,380.9 547.9,384.2 549.3,382.3 550.7,391.6 552.1,390.4 553.5,391.1 554.9,383.0 556.5,383.8 557.7,384.1 559.1,390.4 560.5,388.4 561.6,391.2 563.3,383.9 564.7,388.5 566.1,379.7 566.8,380.9 567.5,380.4 568.9,384.8 570.3,381.2 571.9,385.3 573.1,384.1 574.5,392.8 575.7,392.6 577.3,397.2 578.7,393.8 579.4,398.5 580.1,394.8 581.5,396.7 582.9,388.3 583.8,389.7 586.0,395.6 587.1,396.4 588.5,387.9 589.9,393.8 591.1,388.2 592.7,390.1 594.1,385.1 595.5,385.5 597.0,382.4 598.3,385.9 599.7,381.6 601.1,383.9 602.9,383.8 603.9,388.8 605.3,381.3 606.7,387.4 608.1,384.3 608.8,386.8 609.5,382.6 610.9,385.5 612.3,380.9 613.2,382.4 615.1,380.6 616.5,390.3 617.6,386.8 619.3,386.1 620.7,384.2 622.0,383.8 623.5,379.9 624.9,386.6 626.3,382.4 627.7,387.9 629.1,383.7 630.8,383.8 631.9,381.9 633.3,386.2 634.7,382.8 636.1,388.5 637.5,382.4 638.2,385.3 638.9,381.1 640.3,388.8 641.7,383.8 643.1,387.7 644.1,385.3 645.9,384.5 647.3,375.9 648.7,381.0 649.9,376.5 651.5,380.0 652.9,373.1 654.3,374.4 655.7,370.9 657.3,372.1 658.5,373.7 659.9,378.7 661.3,376.7 663.2,380.9 664.1,378.0 666.1,372.1" fill="none" stroke="#6b96c9" stroke-width="1.35" stroke-linejoin="round"/><polyline points="393.9,380.3 395.3,372.8 396.1,372.9 398.1,374.2 399.8,378.8 400.9,374.3 402.7,374.4 403.7,375.1 405.6,384.7 406.5,384.7 407.9,395.0 408.6,396.5 409.3,401.9 410.7,402.4 411.5,405.3 413.5,403.4 414.5,408.2 416.3,402.7 417.4,403.8 419.1,406.3 420.4,409.7 421.9,404.1 423.3,401.3 424.0,397.9 424.7,401.6 426.2,403.8 427.5,407.0 429.2,402.4 430.3,398.2 432.1,383.2 433.1,388.3 435.1,389.1 435.9,388.6 437.3,379.6 438.0,381.8 438.7,380.6 440.1,388.3 440.9,389.1 442.9,383.8 443.9,380.3 445.7,390.0 446.8,392.1 448.5,386.9 449.8,378.8 451.3,385.6 452.7,381.8 453.4,384.7 454.1,382.5 455.5,386.4 457.1,383.2 458.3,392.9 460.1,400.9 461.1,400.2 463.0,393.5 463.9,393.4 465.3,386.6 466.7,388.4 467.4,386.2 468.1,387.7 469.5,388.8 470.9,394.3 471.8,393.5 473.7,394.1 475.1,385.6 476.2,387.6 477.9,382.8 479.3,384.8 480.6,381.8 482.1,389.5 483.7,389.0 484.9,390.9 486.3,382.5 487.4,383.1 489.1,382.8 491.0,388.2 491.9,382.6 493.3,387.5 494.7,383.7 495.4,384.6 496.1,382.4 497.5,383.2 499.1,377.9 500.3,381.9 501.7,378.6 503.5,383.1 504.5,385.7 505.9,398.1 507.2,400.0 508.7,391.2 509.4,386.0 510.1,385.7 511.5,371.2 512.4,366.9 514.3,365.6 516.0,372.1 517.1,366.2 518.5,372.3 519.7,367.6 521.3,369.5 522.7,364.8 524.1,370.6 525.5,369.3 526.9,378.6 527.8,376.5 529.7,377.1 531.1,370.9 532.9,373.5 533.9,371.5 535.3,376.9 536.7,371.1 538.1,374.0 538.8,372.1 539.5,373.7 540.9,373.1 542.3,376.6 543.2,375.7 545.1,377.9 546.5,373.6 547.9,382.2 549.1,379.4 550.7,384.0 552.1,381.4 553.5,383.8 554.9,375.7 556.3,381.4 557.7,369.8 559.4,369.1 560.5,366.6 561.9,375.5 563.8,372.8 564.7,375.8 566.1,370.9 567.5,379.4 568.2,376.5 568.9,382.0 570.3,376.4 571.7,386.3 573.1,380.3 574.9,386.8 575.9,382.7 577.3,385.0 578.7,377.7 579.4,379.4 580.1,377.1 581.5,387.4 582.9,383.5 583.8,386.8 585.7,382.3 587.1,387.3 588.2,382.4 589.9,386.9 591.3,381.7 593.3,386.8 594.1,382.7 595.5,379.4 596.9,378.0 598.3,385.4 599.7,381.3 601.4,383.1 602.5,379.8 603.9,384.2 605.3,380.8 607.3,383.8 608.1,379.4 609.5,386.1 610.9,380.2 611.7,382.4 613.7,373.9 614.6,375.7 616.5,376.3 617.9,381.3 619.1,380.9 620.7,381.9 622.1,375.3 623.5,377.9 624.9,374.8 626.3,380.7 627.9,380.9 629.1,375.2 630.1,367.6 631.9,376.6 633.8,382.4 634.7,381.3 636.7,370.6 637.5,376.7 638.9,375.5 639.6,379.4 640.3,377.5 641.7,377.6 643.1,372.3 644.1,373.5 645.9,365.6 647.0,366.9 648.7,367.4 650.1,371.1 651.4,372.1 652.9,371.8 654.3,367.2 655.8,366.2 657.1,365.4 658.5,372.1 660.2,370.6 661.3,372.8 663.2,364.0 664.1,366.1 666.1,366.2" fill="none" stroke="#23a267" stroke-width="1.35" stroke-linejoin="round"/><polyline points="393.9,369.7 395.4,363.8 396.7,360.0 397.6,352.1 399.0,361.6 401.2,352.1 402.7,349.1 403.7,351.2 404.9,355.7 406.5,348.9 407.9,347.6 409.3,349.3 410.1,356.5 412.1,353.3 413.0,355.7 414.9,349.3 415.9,350.6 417.7,351.6 418.9,356.5 421.1,368.2 421.9,369.9 423.3,362.4 424.7,372.2 425.5,372.6 427.7,381.5 428.9,373.0 429.9,372.6 431.7,367.5 433.6,366.8 434.5,368.9 436.5,374.1 437.3,368.9 438.7,373.3 439.5,371.9 441.5,377.7 442.4,373.4 444.6,369.0 445.7,367.3 447.1,372.3 448.3,371.9 449.9,373.7 451.3,372.5 452.7,373.4 454.1,370.0 455.5,376.8 457.1,375.6 458.3,377.7 459.7,374.0 461.5,374.1 462.5,369.0 464.5,371.2 465.3,368.3 466.7,372.2 468.1,367.0 468.9,369.7 470.9,372.3 472.6,377.8 473.7,375.5 475.1,381.3 476.5,374.7 477.7,379.3 479.3,373.2 480.7,374.7 482.1,369.7 483.5,376.6 485.1,377.1 486.3,381.5 488.1,382.4 489.1,382.3 490.3,375.7 491.9,377.5 493.3,373.7 494.0,377.2 494.7,373.0 496.1,374.3 497.5,365.8 498.4,368.4 500.3,365.2 502.1,370.6 503.1,370.8 504.3,380.9 505.9,380.8 507.2,383.1 508.7,373.9 510.1,372.8 511.5,369.4 512.9,372.1 513.8,369.1 515.7,366.7 517.5,364.0 518.5,368.1 519.9,363.8 521.2,369.9 522.7,364.6 524.1,364.1 524.9,358.1 526.9,368.0 527.8,367.6 529.7,368.3 531.1,361.7 532.9,363.2 533.9,360.7 535.3,369.5 536.6,370.6 538.1,370.5 539.5,358.6 540.3,361.0 542.3,365.9 543.2,372.8 545.1,367.5 546.9,364.7 547.9,360.8 549.3,362.9 550.6,356.6 552.1,362.9 553.5,360.3 554.3,363.2 556.3,355.7 557.7,361.1 558.7,356.6 560.5,361.1 561.9,354.2 563.1,355.9 564.7,356.7 566.0,364.7 567.5,361.9 568.9,365.9 569.7,364.0 571.7,373.5 572.6,373.5 574.5,373.6 576.4,368.1 577.3,374.6 578.7,370.6 579.4,376.2 580.1,371.5 581.5,373.7 582.3,371.8 584.3,367.2 585.2,362.9 587.4,374.7 588.5,372.3 589.9,378.7 591.1,376.2 592.7,376.1 594.1,371.8 595.5,376.8 597.0,377.6 598.3,374.2 599.2,368.8 601.1,375.6 602.9,376.2 603.9,374.9 605.3,368.6 606.7,373.0 608.0,367.4 609.5,373.4 611.0,374.7 612.3,363.6 613.2,352.6 615.4,364.4 616.5,357.3 617.9,353.0 619.1,344.6 621.3,355.6 622.1,349.0 623.5,343.1 624.9,357.6 625.7,365.9 627.7,355.0 628.6,352.6 630.5,352.4 632.3,357.1 633.3,338.9 634.5,326.9 636.7,354.1 637.5,354.7 638.9,346.8 640.3,362.8 641.1,368.8 643.1,357.6 644.1,346.0 646.3,358.5 647.3,351.9 649.2,346.8 650.1,347.9 652.1,361.5 652.9,348.9 654.1,337.2 655.8,354.1 657.1,360.8 658.0,361.5" fill="none" stroke="#de1f2c" stroke-width="1.35" stroke-linejoin="round"/></svg>
<svg class="a" style="left:0;top:0;" width="680" height="477"><text x="10" y="12" transform="rotate(-35 10 12)" text-anchor="middle" dominant-baseline="central" font-family="Liberation Sans" font-size="20.5" fill="none" stroke="#9a9a9a" stroke-opacity="0.22" stroke-width="0.9">CCTD</text><text x="141" y="12" transform="rotate(-35 141 12)" text-anchor="middle" dominant-baseline="central" font-family="Liberation Sans" font-size="20.5" fill="none" stroke="#9a9a9a" stroke-opacity="0.22" stroke-width="0.9">CCTD</text><text x="272" y="12" transform="rotate(-35 272 12)" text-anchor="middle" dominant-baseline="central" font-family="Liberation Sans" font-size="20.5" fill="none" stroke="#9a9a9a" stroke-opacity="0.22" stroke-width="0.9">CCTD</text><text x="408" y="12" transform="rotate(-35 408 12)" text-anchor="middle" dominant-baseline="central" font-family="Liberation Sans" font-size="20.5" fill="none" stroke="#9a9a9a" stroke-opacity="0.22" stroke-width="0.9">CCTD</text><text x="541" y="12" transform="rotate(-35 541 12)" text-anchor="middle" dominant-baseline="central" font-family="Liberation Sans" font-size="20.5" fill="none" stroke="#9a9a9a" stroke-opacity="0.22" stroke-width="0.9">CCTD</text><text x="670" y="12" transform="rotate(-35 670 12)" text-anchor="middle" dominant-baseline="central" font-family="Liberation Sans" font-size="20.5" fill="none" stroke="#9a9a9a" stroke-opacity="0.22" stroke-width="0.9">CCTD</text><text x="10" y="126" transform="rotate(-35 10 126)" text-anchor="middle" dominant-baseline="central" font-family="Liberation Sans" font-size="20.5" fill="none" stroke="#9a9a9a" stroke-opacity="0.22" stroke-width="0.9">CCTD</text><text x="141" y="126" transform="rotate(-35 141 126)" text-anchor="middle" dominant-baseline="central" font-family="Liberation Sans" font-size="20.5" fill="none" stroke="#9a9a9a" stroke-opacity="0.22" stroke-width="0.9">CCTD</text><text x="272" y="126" transform="rotate(-35 272 126)" text-anchor="middle" dominant-baseline="central" font-family="Liberation Sans" font-size="20.5" fill="none" stroke="#9a9a9a" stroke-opacity="0.22" stroke-width="0.9">CCTD</text><text x="408" y="126" transform="rotate(-35 408 126)" text-anchor="middle" dominant-baseline="central" font-family="Liberation Sans" font-size="20.5" fill="none" stroke="#9a9a9a" stroke-opacity="0.22" stroke-width="0.9">CCTD</text><text x="541" y="126" transform="rotate(-35 541 126)" text-anchor="middle" dominant-baseline="central" font-family="Liberation Sans" font-size="20.5" fill="none" stroke="#9a9a9a" stroke-opacity="0.22" stroke-width="0.9">CCTD</text><text x="670" y="126" transform="rotate(-35 670 126)" text-anchor="middle" dominant-baseline="central" font-family="Liberation Sans" font-size="20.5" fill="none" stroke="#9a9a9a" stroke-opacity="0.22" stroke-width="0.9">CCTD</text><text x="10" y="236" transform="rotate(-35 10 236)" text-anchor="middle" dominant-baseline="central" font-family="Liberation Sans" font-size="20.5" fill="none" stroke="#9a9a9a" stroke-opacity="0.22" stroke-width="0.9">CCTD</text><text x="141" y="236" transform="rotate(-35 141 236)" text-anchor="middle" dominant-baseline="central" font-family="Liberation Sans" font-size="20.5" fill="none" stroke="#9a9a9a" stroke-opacity="0.22" stroke-width="0.9">CCTD</text><text x="272" y="236" transform="rotate(-35 272 236)" text-anchor="middle" dominant-baseline="central" font-family="Liberation Sans" font-size="20.5" fill="none" stroke="#9a9a9a" stroke-opacity="0.22" stroke-width="0.9">CCTD</text><text x="408" y="236" transform="rotate(-35 408 236)" text-anchor="middle" dominant-baseline="central" font-family="Liberation Sans" font-size="20.5" fill="none" stroke="#9a9a9a" stroke-opacity="0.22" stroke-width="0.9">CCTD</text><text x="541" y="236" transform="rotate(-35 541 236)" text-anchor="middle" dominant-baseline="central" font-family="Liberation Sans" font-size="20.5" fill="none" stroke="#9a9a9a" stroke-opacity="0.22" stroke-width="0.9">CCTD</text><text x="670" y="236" transform="rotate(-35 670 236)" text-anchor="middle" dominant-baseline="central" font-family="Liberation Sans" font-size="20.5" fill="none" stroke="#9a9a9a" stroke-opacity="0.22" stroke-width="0.9">CCTD</text><text x="10" y="350" transform="rotate(-35 10 350)" text-anchor="middle" dominant-baseline="central" font-family="Liberation Sans" font-size="20.5" fill="none" stroke="#9a9a9a" stroke-opacity="0.22" stroke-width="0.9">CCTD</text><text x="141" y="350" transform="rotate(-35 141 350)" text-anchor="middle" dominant-baseline="central" font-family="Liberation Sans" font-size="20.5" fill="none" stroke="#9a9a9a" stroke-opacity="0.22" stroke-width="0.9">CCTD</text><text x="272" y="350" transform="rotate(-35 272 350)" text-anchor="middle" dominant-baseline="central" font-family="Liberation Sans" font-size="20.5" fill="none" stroke="#9a9a9a" stroke-opacity="0.22" stroke-width="0.9">CCTD</text><text x="408" y="350" transform="rotate(-35 408 350)" text-anchor="middle" dominant-baseline="central" font-family="Liberation Sans" font-size="20.5" fill="none" stroke="#9a9a9a" stroke-opacity="0.22" stroke-width="0.9">CCTD</text><text x="541" y="350" transform="rotate(-35 541 350)" text-anchor="middle" dominant-baseline="central" font-family="Liberation Sans" font-size="20.5" fill="none" stroke="#9a9a9a" stroke-opacity="0.22" stroke-width="0.9">CCTD</text><text x="670" y="350" transform="rotate(-35 670 350)" text-anchor="middle" dominant-baseline="central" font-family="Liberation Sans" font-size="20.5" fill="none" stroke="#9a9a9a" stroke-opacity="0.22" stroke-width="0.9">CCTD</text><text x="10" y="462" transform="rotate(-35 10 462)" text-anchor="middle" dominant-baseline="central" font-family="Liberation Sans" font-size="20.5" fill="none" stroke="#9a9a9a" stroke-opacity="0.22" stroke-width="0.9">CCTD</text><text x="141" y="462" transform="rotate(-35 141 462)" text-anchor="middle" dominant-baseline="central" font-family="Liberation Sans" font-size="20.5" fill="none" stroke="#9a9a9a" stroke-opacity="0.22" stroke-width="0.9">CCTD</text><text x="272" y="462" transform="rotate(-35 272 462)" text-anchor="middle" dominant-baseline="central" font-family="Liberation Sans" font-size="20.5" fill="none" stroke="#9a9a9a" stroke-opacity="0.22" stroke-width="0.9">CCTD</text><text x="408" y="462" transform="rotate(-35 408 462)" text-anchor="middle" dominant-baseline="central" font-family="Liberation Sans" font-size="20.5" fill="none" stroke="#9a9a9a" stroke-opacity="0.22" stroke-width="0.9">CCTD</text><text x="541" y="462" transform="rotate(-35 541 462)" text-anchor="middle" dominant-baseline="central" font-family="Liberation Sans" font-size="20.5" fill="none" stroke="#9a9a9a" stroke-opacity="0.22" stroke-width="0.9">CCTD</text><text x="670" y="462" transform="rotate(-35 670 462)" text-anchor="middle" dominant-baseline="central" font-family="Liberation Sans" font-size="20.5" fill="none" stroke="#9a9a9a" stroke-opacity="0.22" stroke-width="0.9">CCTD</text></svg>
</body></html>
